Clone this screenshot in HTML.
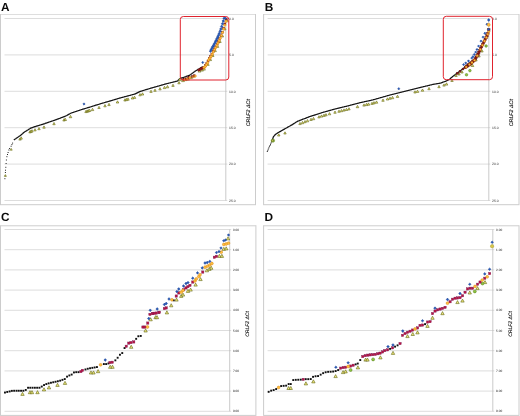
<!DOCTYPE html>
<html><head><meta charset="utf-8"><title>CRLF2 ΔCt figure</title>
<style>html,body{margin:0;padding:0;background:#fff;}svg{display:block;}</style></head>
<body><svg width="520" height="416" viewBox="0 0 520 416" text-rendering="geometricPrecision">
<rect width="520" height="416" fill="#fff"/>
<g transform="translate(0,0)">
<text x="0.9" y="10.9" font-family="Liberation Sans, sans-serif" font-weight="bold" font-size="11.8" fill="#0a0a0a">A</text>
<rect x="0.5" y="14.5" width="255.0" height="190.2" fill="#fff" stroke="#cccccc" stroke-width="1"/>
<line x1="1.0" y1="14.5" x2="255.0" y2="14.5" stroke="#dedede" stroke-width="1"/>
<line x1="4.5" y1="18.5" x2="227.3" y2="18.5" stroke="#d4d4d4" stroke-width="0.8"/>
<text transform="translate(229.1,19.72) scale(0.1)" font-family="Liberation Sans, sans-serif" font-size="34" fill="#333" stroke="#333" stroke-width="0.25">0.0</text>
<line x1="4.5" y1="54.9" x2="227.3" y2="54.9" stroke="#d4d4d4" stroke-width="0.8"/>
<text transform="translate(229.1,56.12) scale(0.1)" font-family="Liberation Sans, sans-serif" font-size="34" fill="#333" stroke="#333" stroke-width="0.25">5.0</text>
<line x1="4.5" y1="91.3" x2="227.3" y2="91.3" stroke="#d4d4d4" stroke-width="0.8"/>
<text transform="translate(229.1,92.52) scale(0.1)" font-family="Liberation Sans, sans-serif" font-size="34" fill="#333" stroke="#333" stroke-width="0.25">10.0</text>
<line x1="4.5" y1="127.69999999999999" x2="227.3" y2="127.69999999999999" stroke="#d4d4d4" stroke-width="0.8"/>
<text transform="translate(229.1,128.92) scale(0.1)" font-family="Liberation Sans, sans-serif" font-size="34" fill="#333" stroke="#333" stroke-width="0.25">15.0</text>
<line x1="4.5" y1="164.1" x2="227.3" y2="164.1" stroke="#d4d4d4" stroke-width="0.8"/>
<text transform="translate(229.1,165.32) scale(0.1)" font-family="Liberation Sans, sans-serif" font-size="34" fill="#333" stroke="#333" stroke-width="0.25">20.0</text>
<line x1="4.5" y1="200.5" x2="227.3" y2="200.5" stroke="#d4d4d4" stroke-width="0.8"/>
<text transform="translate(229.1,201.72) scale(0.1)" font-family="Liberation Sans, sans-serif" font-size="34" fill="#333" stroke="#333" stroke-width="0.25">25.0</text>
<line x1="225.8" y1="18.5" x2="225.8" y2="200.5" stroke="#bdbdbd" stroke-width="0.8"/>
<text transform="translate(249.6,112.7) rotate(-90) scale(0.1)" text-anchor="middle" font-family="Liberation Sans, sans-serif" font-style="italic" font-size="53" fill="#000" stroke="#000" stroke-width="1">CRLF2 ΔCt</text>
</g>
<polyline fill="none" stroke="#151515" stroke-width="1.25" points="13.8,140.0 14.2,139.7 14.8,139.3 15.2,139.0 15.8,138.7 16.2,138.3 16.8,138.0 17.2,137.6 17.8,137.3 18.2,137.0 18.8,136.6 19.2,136.3 19.8,136.0 20.2,135.6 20.8,135.2 21.2,134.7 21.8,134.3 22.2,133.9 22.8,133.5 23.2,133.0 23.8,132.6 24.2,132.2 24.8,131.8 25.2,131.5 25.8,131.2 26.2,130.9 26.8,130.6 27.2,130.3 27.8,130.0 28.2,129.7 28.8,129.4 29.2,129.1 29.8,128.7 30.2,128.4 30.8,128.1 31.2,127.9 31.8,127.8 32.2,127.6 32.8,127.4 33.2,127.2 33.8,127.1 34.2,126.9 34.8,126.7 35.2,126.6 35.8,126.4 36.2,126.2 36.8,126.1 37.2,125.9 37.8,125.8 38.2,125.6 38.8,125.5 39.2,125.3 39.8,125.2 40.2,125.0 40.8,124.9 41.2,124.7 41.8,124.6 42.2,124.4 42.8,124.3 43.2,124.1 43.8,123.9 44.2,123.8 44.8,123.6 45.2,123.4 45.8,123.2 46.2,123.1 46.8,122.9 47.2,122.7 47.8,122.6 48.2,122.4 48.8,122.2 49.2,122.0 49.8,121.9 50.2,121.7 50.8,121.5 51.2,121.3 51.8,121.2 52.2,121.0 52.8,120.8 53.2,120.6 53.8,120.5 54.2,120.3 54.8,120.1 55.2,119.9 55.8,119.8 56.2,119.6 56.8,119.4 57.2,119.2 57.8,119.1 58.2,118.9 58.8,118.7 59.2,118.5 59.8,118.3 60.2,118.1 60.8,117.9 61.2,117.7 61.8,117.5 62.2,117.3 62.8,117.1 63.2,116.9 63.8,116.8 64.2,116.6 64.8,116.4 65.2,116.2 65.8,116.0 66.2,115.8 66.8,115.5 67.2,115.2 67.8,114.9 68.2,114.6 68.8,114.4 69.2,114.1 69.8,113.8 70.2,113.5 70.8,113.2 71.2,113.0 71.8,112.9 72.2,112.7 72.8,112.5 73.2,112.4 73.8,112.2 74.2,112.0 74.8,111.9 75.2,111.7 75.8,111.5 76.2,111.4 76.8,111.2 77.2,111.0 77.8,110.9 78.2,110.7 78.8,110.5 79.2,110.4 79.8,110.2 80.2,110.0 80.8,109.9 81.2,109.7 81.8,109.5 82.2,109.4 82.8,109.2 83.2,109.1 83.8,108.9 84.2,108.8 84.8,108.6 85.2,108.5 85.8,108.3 86.2,108.2 86.8,108.0 87.2,107.9 87.8,107.7 88.2,107.6 88.8,107.4 89.2,107.3 89.8,107.1 90.2,107.0 90.8,106.8 91.2,106.7 91.8,106.5 92.2,106.3 92.8,106.2 93.2,106.0 93.8,105.9 94.2,105.7 94.8,105.6 95.2,105.4 95.8,105.2 96.2,105.1 96.8,104.9 97.2,104.8 97.8,104.6 98.2,104.5 98.8,104.3 99.2,104.1 99.8,104.0 100.2,103.8 100.8,103.7 101.2,103.5 101.8,103.4 102.2,103.2 102.8,103.1 103.2,103.0 103.8,102.8 104.2,102.7 104.8,102.5 105.2,102.4 105.8,102.2 106.2,102.1 106.8,101.9 107.2,101.8 107.8,101.7 108.2,101.5 108.8,101.4 109.2,101.2 109.8,101.1 110.2,100.9 110.8,100.8 111.2,100.6 111.8,100.5 112.2,100.3 112.8,100.2 113.2,100.0 113.8,99.9 114.2,99.7 114.8,99.6 115.2,99.4 115.8,99.3 116.2,99.1 116.8,99.0 117.2,98.8 117.8,98.7 118.2,98.5 118.8,98.4 119.2,98.2 119.8,98.1 120.2,97.9 120.8,97.8 121.2,97.7 121.8,97.5 122.2,97.4 122.8,97.3 123.2,97.1 123.8,97.0 124.2,96.9 124.8,96.7 125.2,96.6 125.8,96.5 126.2,96.3 126.8,96.2 127.2,96.1 127.8,95.9 128.2,95.8 128.8,95.7 129.2,95.5 129.8,95.4 130.2,95.3 130.8,95.1 131.2,95.0 131.8,94.9 132.2,94.7 132.8,94.6 133.2,94.5 133.8,94.3 134.2,94.2 134.8,94.1 135.2,93.9 135.8,93.6 136.2,93.4 136.8,93.1 137.2,92.9 137.8,92.6 138.2,92.4 138.8,92.1 139.2,91.9 139.8,91.6 140.2,91.4 140.8,91.3 141.2,91.1 141.8,91.0 142.2,90.8 142.8,90.7 143.2,90.5 143.8,90.4 144.2,90.2 144.8,90.0 145.2,89.9 145.8,89.7 146.2,89.6 146.8,89.4 147.2,89.3 147.8,89.1 148.2,89.0 148.8,88.8 149.2,88.7 149.8,88.5 150.2,88.4 150.8,88.2 151.2,88.1 151.8,87.9 152.2,87.8 152.8,87.6 153.2,87.5 153.8,87.4 154.2,87.2 154.8,87.1 155.2,86.9 155.8,86.8 156.2,86.7 156.8,86.5 157.2,86.4 157.8,86.2 158.2,86.1 158.8,86.0 159.2,85.8 159.8,85.7 160.2,85.5 160.8,85.4 161.2,85.2 161.8,85.1 162.2,84.9 162.8,84.8 163.2,84.7 163.8,84.5 164.2,84.4 164.8,84.2 165.2,84.1 165.8,83.9 166.2,83.8 166.8,83.7 167.2,83.5 167.8,83.4 168.2,83.3 168.8,83.2 169.2,83.0 169.8,82.9 170.2,82.8 170.8,82.7 171.2,82.5 171.8,82.4 172.2,82.3 172.8,82.2 173.2,82.1 173.8,81.9 174.2,81.8 174.8,81.7 175.2,81.6 175.8,81.4 176.2,81.3 176.8,81.2 177.2,81.1 177.8,80.8 178.2,80.2 178.8,79.8 179.2,79.2 179.8,78.8 180.2,78.4 180.8,78.3 181.2,78.1 181.8,77.9 182.2,77.8 182.8,77.6 183.2,77.5 183.8,77.3 184.2,77.1 184.8,77.0 185.2,76.8 185.8,76.6 186.2,76.4 186.8,76.2 187.2,76.0 187.8,75.9 188.2,75.7 188.8,75.5 189.2,75.3 189.8,75.1 190.2,74.8 190.8,74.4 191.2,74.1 191.8,73.7 192.2,73.3 192.8,72.9 193.2,72.6 193.8,72.2 194.2,71.8 194.8,71.4 195.2,71.1 195.8,70.8 196.2,70.5 196.8,70.2 197.2,69.9 197.8,69.6 198.2,69.3 198.8,69.0 199.2,68.7 199.8,68.4 200.2,68.2 200.8,67.9 201.2,67.6 201.8,67.3 202.2,67.1 202.8,66.8"/>
<rect x="12.10" y="142.60" width="1.0" height="1.0" fill="#222"/>
<rect x="11.40" y="144.10" width="1.0" height="1.0" fill="#222"/>
<rect x="10.60" y="145.75" width="1.0" height="1.0" fill="#222"/>
<rect x="9.10" y="148.00" width="1.0" height="1.0" fill="#222"/>
<rect x="8.40" y="149.50" width="1.0" height="1.0" fill="#222"/>
<rect x="7.60" y="152.00" width="1.0" height="1.0" fill="#222"/>
<rect x="7.00" y="154.00" width="1.0" height="1.0" fill="#222"/>
<rect x="6.40" y="156.20" width="1.0" height="1.0" fill="#222"/>
<rect x="5.90" y="159.50" width="1.0" height="1.0" fill="#222"/>
<rect x="5.60" y="163.00" width="1.0" height="1.0" fill="#222"/>
<rect x="5.30" y="166.80" width="1.0" height="1.0" fill="#222"/>
<rect x="5.00" y="169.70" width="1.0" height="1.0" fill="#222"/>
<rect x="4.90" y="172.00" width="1.0" height="1.0" fill="#222"/>
<rect x="4.80" y="175.30" width="1.0" height="1.0" fill="#222"/>
<rect x="4.40" y="178.20" width="1.0" height="1.0" fill="#222"/>
<path d="M11.2 148.4L12.2 150.2L10.2 150.2Z" fill="#efe67a" stroke="#5f6414" stroke-width="0.6"/>
<path d="M5.4 174.6L6.4 176.4L4.4 176.4Z" fill="#efe67a" stroke="#5f6414" stroke-width="0.6"/>
<path d="M20.0 137.9L21.2 140.1L18.8 140.1Z" fill="#efe67a" stroke="#5f6414" stroke-width="0.6"/>
<path d="M21.2 136.8L22.4 139.1L19.9 139.1Z" fill="#efe67a" stroke="#5f6414" stroke-width="0.6"/>
<path d="M30.0 130.6L31.2 132.9L28.8 132.9Z" fill="#efe67a" stroke="#5f6414" stroke-width="0.6"/>
<path d="M31.0 130.1L32.2 132.3L29.8 132.3Z" fill="#efe67a" stroke="#5f6414" stroke-width="0.6"/>
<path d="M32.0 129.7L33.2 132.0L30.8 132.0Z" fill="#efe67a" stroke="#5f6414" stroke-width="0.6"/>
<path d="M35.0 128.7L36.2 130.9L33.8 130.9Z" fill="#efe67a" stroke="#5f6414" stroke-width="0.6"/>
<path d="M39.0 127.5L40.2 129.7L37.8 129.7Z" fill="#efe67a" stroke="#5f6414" stroke-width="0.6"/>
<path d="M44.0 125.9L45.2 128.2L42.8 128.2Z" fill="#efe67a" stroke="#5f6414" stroke-width="0.6"/>
<path d="M54.0 122.4L55.2 124.7L52.8 124.7Z" fill="#efe67a" stroke="#5f6414" stroke-width="0.6"/>
<path d="M64.0 118.7L65.2 121.0L62.8 121.0Z" fill="#efe67a" stroke="#5f6414" stroke-width="0.6"/>
<path d="M65.2 118.2L66.5 120.5L64.0 120.5Z" fill="#efe67a" stroke="#5f6414" stroke-width="0.6"/>
<path d="M70.5 115.4L71.8 117.7L69.2 117.7Z" fill="#efe67a" stroke="#5f6414" stroke-width="0.6"/>
<path d="M86.0 110.3L87.2 112.6L84.8 112.6Z" fill="#efe67a" stroke="#5f6414" stroke-width="0.6"/>
<path d="M87.2 109.9L88.5 112.2L86.0 112.2Z" fill="#efe67a" stroke="#5f6414" stroke-width="0.6"/>
<path d="M88.4 109.6L89.7 111.8L87.2 111.8Z" fill="#efe67a" stroke="#5f6414" stroke-width="0.6"/>
<path d="M89.6 109.2L90.8 111.5L88.3 111.5Z" fill="#efe67a" stroke="#5f6414" stroke-width="0.6"/>
<path d="M92.5 108.3L93.8 110.6L91.2 110.6Z" fill="#efe67a" stroke="#5f6414" stroke-width="0.6"/>
<path d="M99.0 106.3L100.2 108.5L97.8 108.5Z" fill="#efe67a" stroke="#5f6414" stroke-width="0.6"/>
<path d="M105.0 104.5L106.2 106.8L103.8 106.8Z" fill="#efe67a" stroke="#5f6414" stroke-width="0.6"/>
<path d="M109.0 103.3L110.2 105.6L107.8 105.6Z" fill="#efe67a" stroke="#5f6414" stroke-width="0.6"/>
<path d="M117.5 100.8L118.8 103.0L116.2 103.0Z" fill="#efe67a" stroke="#5f6414" stroke-width="0.6"/>
<path d="M125.0 98.7L126.2 101.0L123.8 101.0Z" fill="#efe67a" stroke="#5f6414" stroke-width="0.6"/>
<path d="M126.5 98.3L127.8 100.6L125.2 100.6Z" fill="#efe67a" stroke="#5f6414" stroke-width="0.6"/>
<path d="M128.0 97.9L129.2 100.2L126.8 100.2Z" fill="#efe67a" stroke="#5f6414" stroke-width="0.6"/>
<path d="M132.5 96.7L133.8 99.0L131.2 99.0Z" fill="#efe67a" stroke="#5f6414" stroke-width="0.6"/>
<path d="M134.5 96.2L135.8 98.4L133.2 98.4Z" fill="#efe67a" stroke="#5f6414" stroke-width="0.6"/>
<path d="M140.0 93.5L141.2 95.8L138.8 95.8Z" fill="#efe67a" stroke="#5f6414" stroke-width="0.6"/>
<path d="M142.5 92.8L143.8 95.0L141.2 95.0Z" fill="#efe67a" stroke="#5f6414" stroke-width="0.6"/>
<path d="M151.0 90.2L152.2 92.4L149.8 92.4Z" fill="#efe67a" stroke="#5f6414" stroke-width="0.6"/>
<path d="M155.0 89.1L156.2 91.3L153.8 91.3Z" fill="#efe67a" stroke="#5f6414" stroke-width="0.6"/>
<path d="M160.0 87.6L161.2 89.9L158.8 89.9Z" fill="#efe67a" stroke="#5f6414" stroke-width="0.6"/>
<path d="M164.5 86.3L165.8 88.6L163.2 88.6Z" fill="#efe67a" stroke="#5f6414" stroke-width="0.6"/>
<path d="M167.5 85.5L168.8 87.8L166.2 87.8Z" fill="#efe67a" stroke="#5f6414" stroke-width="0.6"/>
<path d="M173.0 84.2L174.2 86.4L171.8 86.4Z" fill="#efe67a" stroke="#5f6414" stroke-width="0.6"/>
<path d="M179.0 81.5L180.2 83.8L177.8 83.8Z" fill="#efe67a" stroke="#5f6414" stroke-width="0.6"/>
<path d="M180.0 78.1L181.4 80.6L178.6 80.6Z" fill="#efe67a" stroke="#5f6414" stroke-width="0.6"/>
<path d="M183.0 79.1L184.4 81.6L181.6 81.6Z" fill="#efe67a" stroke="#5f6414" stroke-width="0.6"/>
<path d="M185.5 78.1L186.9 80.6L184.1 80.6Z" fill="#efe67a" stroke="#5f6414" stroke-width="0.6"/>
<path d="M188.0 77.6L189.4 80.1L186.6 80.1Z" fill="#efe67a" stroke="#5f6414" stroke-width="0.6"/>
<path d="M191.0 76.1L192.4 78.6L189.6 78.6Z" fill="#efe67a" stroke="#5f6414" stroke-width="0.6"/>
<path d="M194.0 74.6L195.4 77.1L192.6 77.1Z" fill="#efe67a" stroke="#5f6414" stroke-width="0.6"/>
<path d="M199.5 69.6L200.9 72.1L198.1 72.1Z" fill="#efe67a" stroke="#5f6414" stroke-width="0.6"/>
<path d="M202.0 68.6L203.4 71.1L200.6 71.1Z" fill="#efe67a" stroke="#5f6414" stroke-width="0.6"/>
<path d="M204.0 67.6L205.4 70.1L202.6 70.1Z" fill="#efe67a" stroke="#5f6414" stroke-width="0.6"/>
<path d="M84.0 102.8L85.2 104.0L84.0 105.2L82.8 104.0Z" fill="#2459b8" stroke="#1a3a8a" stroke-width="0.4"/>
<path d="M208.0 63.3L209.2 65.4L206.8 65.4Z" fill="#efe67a" stroke="#5f6414" stroke-width="0.6"/>
<path d="M210.4 58.4L211.6 60.6L209.2 60.6Z" fill="#efe67a" stroke="#5f6414" stroke-width="0.6"/>
<path d="M212.8 54.3L214.0 56.5L211.6 56.5Z" fill="#efe67a" stroke="#5f6414" stroke-width="0.6"/>
<path d="M215.2 49.5L216.4 51.6L214.0 51.6Z" fill="#efe67a" stroke="#5f6414" stroke-width="0.6"/>
<path d="M217.6 45.2L218.8 47.4L216.4 47.4Z" fill="#efe67a" stroke="#5f6414" stroke-width="0.6"/>
<path d="M220.0 40.3L221.2 42.5L218.8 42.5Z" fill="#efe67a" stroke="#5f6414" stroke-width="0.6"/>
<path d="M222.4 34.8L223.6 37.0L221.2 37.0Z" fill="#efe67a" stroke="#5f6414" stroke-width="0.6"/>
<path d="M224.8 27.7L226.0 29.9L223.6 29.9Z" fill="#efe67a" stroke="#5f6414" stroke-width="0.6"/>
<path d="M227.2 19.6L228.4 21.8L226.0 21.8Z" fill="#efe67a" stroke="#5f6414" stroke-width="0.6"/>
<rect x="182.8" y="78.5" width="1.8" height="1.8" fill="#a31a1a" stroke="#6a1010" stroke-width="0.4"/>
<circle cx="184.8" cy="79.7" r="1.0" fill="#ffc23e" stroke="#d98218" stroke-width="0.5"/>
<rect x="185.3" y="77.9" width="1.8" height="1.8" fill="#a31a1a" stroke="#6a1010" stroke-width="0.4"/>
<circle cx="187.2" cy="79.1" r="1.0" fill="#ffc23e" stroke="#d98218" stroke-width="0.5"/>
<rect x="187.8" y="76.5" width="1.8" height="1.8" fill="#a31a1a" stroke="#6a1010" stroke-width="0.4"/>
<circle cx="189.8" cy="77.7" r="1.0" fill="#ffc23e" stroke="#d98218" stroke-width="0.5"/>
<rect x="191.6" y="75.5" width="1.8" height="1.8" fill="#a31a1a" stroke="#6a1010" stroke-width="0.4"/>
<circle cx="193.5" cy="76.7" r="1.0" fill="#ffc23e" stroke="#d98218" stroke-width="0.5"/>
<rect x="193.5" y="74.8" width="1.8" height="1.8" fill="#a31a1a" stroke="#6a1010" stroke-width="0.4"/>
<circle cx="195.4" cy="76.0" r="1.0" fill="#ffc23e" stroke="#d98218" stroke-width="0.5"/>
<rect x="197.9" y="69.0" width="2.0" height="2.0" fill="#a31a1a" stroke="#6a1010" stroke-width="0.4"/>
<rect x="199.2" y="68.3" width="2.0" height="2.0" fill="#a31a1a" stroke="#6a1010" stroke-width="0.4"/>
<rect x="200.5" y="67.6" width="2.0" height="2.0" fill="#a31a1a" stroke="#6a1010" stroke-width="0.4"/>
<rect x="201.8" y="66.9" width="2.0" height="2.0" fill="#a31a1a" stroke="#6a1010" stroke-width="0.4"/>
<rect x="203.1" y="66.2" width="2.0" height="2.0" fill="#a31a1a" stroke="#6a1010" stroke-width="0.4"/>
<rect x="204.4" y="64.7" width="2.0" height="2.0" fill="#a31a1a" stroke="#6a1010" stroke-width="0.4"/>
<rect x="205.7" y="62.8" width="2.0" height="2.0" fill="#a31a1a" stroke="#6a1010" stroke-width="0.4"/>
<rect x="207.0" y="60.0" width="2.0" height="2.0" fill="#a31a1a" stroke="#6a1010" stroke-width="0.4"/>
<rect x="208.3" y="57.6" width="2.0" height="2.0" fill="#a31a1a" stroke="#6a1010" stroke-width="0.4"/>
<rect x="209.6" y="55.7" width="2.0" height="2.0" fill="#a31a1a" stroke="#6a1010" stroke-width="0.4"/>
<rect x="210.9" y="53.1" width="2.0" height="2.0" fill="#a31a1a" stroke="#6a1010" stroke-width="0.4"/>
<rect x="212.2" y="50.4" width="2.0" height="2.0" fill="#a31a1a" stroke="#6a1010" stroke-width="0.4"/>
<rect x="213.5" y="48.0" width="2.0" height="2.0" fill="#a31a1a" stroke="#6a1010" stroke-width="0.4"/>
<rect x="214.8" y="45.8" width="2.0" height="2.0" fill="#a31a1a" stroke="#6a1010" stroke-width="0.4"/>
<rect x="216.1" y="43.2" width="2.0" height="2.0" fill="#a31a1a" stroke="#6a1010" stroke-width="0.4"/>
<rect x="217.4" y="40.6" width="2.0" height="2.0" fill="#a31a1a" stroke="#6a1010" stroke-width="0.4"/>
<rect x="218.7" y="37.7" width="2.0" height="2.0" fill="#a31a1a" stroke="#6a1010" stroke-width="0.4"/>
<rect x="220.0" y="34.8" width="2.0" height="2.0" fill="#a31a1a" stroke="#6a1010" stroke-width="0.4"/>
<rect x="221.3" y="31.2" width="2.0" height="2.0" fill="#a31a1a" stroke="#6a1010" stroke-width="0.4"/>
<rect x="222.6" y="27.3" width="2.0" height="2.0" fill="#a31a1a" stroke="#6a1010" stroke-width="0.4"/>
<rect x="223.9" y="22.9" width="2.0" height="2.0" fill="#a31a1a" stroke="#6a1010" stroke-width="0.4"/>
<rect x="225.2" y="18.4" width="2.0" height="2.0" fill="#a31a1a" stroke="#6a1010" stroke-width="0.4"/>
<circle cx="204.1" cy="67.5" r="1.2" fill="#ffc23e" stroke="#d98218" stroke-width="0.5"/>
<circle cx="205.2" cy="66.4" r="1.2" fill="#ffc23e" stroke="#d98218" stroke-width="0.5"/>
<circle cx="206.4" cy="64.7" r="1.2" fill="#ffc23e" stroke="#d98218" stroke-width="0.5"/>
<circle cx="207.6" cy="62.8" r="1.2" fill="#ffc23e" stroke="#d98218" stroke-width="0.5"/>
<circle cx="208.7" cy="60.0" r="1.2" fill="#ffc23e" stroke="#d98218" stroke-width="0.5"/>
<circle cx="209.9" cy="58.3" r="1.2" fill="#ffc23e" stroke="#d98218" stroke-width="0.5"/>
<circle cx="211.0" cy="56.6" r="1.2" fill="#ffc23e" stroke="#d98218" stroke-width="0.5"/>
<circle cx="212.2" cy="54.2" r="1.2" fill="#ffc23e" stroke="#d98218" stroke-width="0.5"/>
<circle cx="213.3" cy="51.9" r="1.2" fill="#ffc23e" stroke="#d98218" stroke-width="0.5"/>
<circle cx="214.5" cy="49.6" r="1.2" fill="#ffc23e" stroke="#d98218" stroke-width="0.5"/>
<circle cx="215.6" cy="47.6" r="1.2" fill="#ffc23e" stroke="#d98218" stroke-width="0.5"/>
<circle cx="216.8" cy="45.5" r="1.2" fill="#ffc23e" stroke="#d98218" stroke-width="0.5"/>
<circle cx="217.9" cy="43.2" r="1.2" fill="#ffc23e" stroke="#d98218" stroke-width="0.5"/>
<circle cx="219.1" cy="40.8" r="1.2" fill="#ffc23e" stroke="#d98218" stroke-width="0.5"/>
<circle cx="220.2" cy="38.3" r="1.2" fill="#ffc23e" stroke="#d98218" stroke-width="0.5"/>
<circle cx="221.4" cy="35.6" r="1.2" fill="#ffc23e" stroke="#d98218" stroke-width="0.5"/>
<circle cx="222.5" cy="32.4" r="1.2" fill="#ffc23e" stroke="#d98218" stroke-width="0.5"/>
<circle cx="223.7" cy="29.0" r="1.2" fill="#ffc23e" stroke="#d98218" stroke-width="0.5"/>
<circle cx="224.8" cy="25.1" r="1.2" fill="#ffc23e" stroke="#d98218" stroke-width="0.5"/>
<circle cx="226.0" cy="21.3" r="1.2" fill="#ffc23e" stroke="#d98218" stroke-width="0.5"/>
<path d="M210.5 49.8L211.9 51.2L210.5 52.6L209.1 51.2Z" fill="#2459b8" stroke="#1a3a8a" stroke-width="0.4"/>
<path d="M211.3 48.1L212.7 49.5L211.3 50.9L209.9 49.5Z" fill="#2459b8" stroke="#1a3a8a" stroke-width="0.4"/>
<path d="M212.1 46.5L213.5 47.9L212.1 49.3L210.7 47.9Z" fill="#2459b8" stroke="#1a3a8a" stroke-width="0.4"/>
<path d="M212.9 45.2L214.3 46.6L212.9 48.0L211.5 46.6Z" fill="#2459b8" stroke="#1a3a8a" stroke-width="0.4"/>
<path d="M213.7 43.8L215.1 45.2L213.7 46.6L212.3 45.2Z" fill="#2459b8" stroke="#1a3a8a" stroke-width="0.4"/>
<path d="M214.5 42.3L215.9 43.7L214.5 45.1L213.1 43.7Z" fill="#2459b8" stroke="#1a3a8a" stroke-width="0.4"/>
<path d="M215.3 40.7L216.7 42.1L215.3 43.5L213.9 42.1Z" fill="#2459b8" stroke="#1a3a8a" stroke-width="0.4"/>
<path d="M216.1 39.1L217.5 40.5L216.1 41.9L214.7 40.5Z" fill="#2459b8" stroke="#1a3a8a" stroke-width="0.4"/>
<path d="M216.9 37.4L218.3 38.8L216.9 40.2L215.5 38.8Z" fill="#2459b8" stroke="#1a3a8a" stroke-width="0.4"/>
<path d="M217.7 35.7L219.1 37.1L217.7 38.5L216.3 37.1Z" fill="#2459b8" stroke="#1a3a8a" stroke-width="0.4"/>
<path d="M218.5 33.9L219.9 35.3L218.5 36.7L217.1 35.3Z" fill="#2459b8" stroke="#1a3a8a" stroke-width="0.4"/>
<path d="M219.3 32.0L220.7 33.4L219.3 34.8L217.9 33.4Z" fill="#2459b8" stroke="#1a3a8a" stroke-width="0.4"/>
<path d="M220.1 29.8L221.5 31.2L220.1 32.6L218.7 31.2Z" fill="#2459b8" stroke="#1a3a8a" stroke-width="0.4"/>
<path d="M220.9 27.6L222.3 29.0L220.9 30.4L219.5 29.0Z" fill="#2459b8" stroke="#1a3a8a" stroke-width="0.4"/>
<path d="M221.7 25.0L223.1 26.4L221.7 27.8L220.3 26.4Z" fill="#2459b8" stroke="#1a3a8a" stroke-width="0.4"/>
<path d="M222.5 22.3L223.9 23.7L222.5 25.1L221.1 23.7Z" fill="#2459b8" stroke="#1a3a8a" stroke-width="0.4"/>
<path d="M223.3 19.6L224.7 21.0L223.3 22.4L221.9 21.0Z" fill="#2459b8" stroke="#1a3a8a" stroke-width="0.4"/>
<path d="M224.1 16.9L225.5 18.3L224.1 19.7L222.7 18.3Z" fill="#2459b8" stroke="#1a3a8a" stroke-width="0.4"/>
<path d="M202.8 61.3L203.9 62.5L202.8 63.7L201.6 62.5Z" fill="#2459b8" stroke="#1a3a8a" stroke-width="0.4"/>
<path d="M225.4 17.0L226.7 18.3L225.4 19.6L224.1 18.3Z" fill="#2459b8" stroke="#1a3a8a" stroke-width="0.4"/>
<rect x="180.3" y="16.5" width="48.5" height="63.5" rx="3" ry="3" fill="none" stroke="#e0232e" stroke-width="1"/>
<g transform="translate(263.1,0)">
<text x="1.6" y="10.9" font-family="Liberation Sans, sans-serif" font-weight="bold" font-size="11.8" fill="#0a0a0a">B</text>
<rect x="0.5" y="14.5" width="255.4" height="190.2" fill="#fff" stroke="#cccccc" stroke-width="1"/>
<line x1="1.0" y1="14.5" x2="255.4" y2="14.5" stroke="#dedede" stroke-width="1"/>
<line x1="4.5" y1="18.5" x2="227.2" y2="18.5" stroke="#d4d4d4" stroke-width="0.8"/>
<text transform="translate(229.0,19.72) scale(0.1)" font-family="Liberation Sans, sans-serif" font-size="34" fill="#333" stroke="#333" stroke-width="0.25">0.0</text>
<line x1="4.5" y1="54.9" x2="227.2" y2="54.9" stroke="#d4d4d4" stroke-width="0.8"/>
<text transform="translate(229.0,56.12) scale(0.1)" font-family="Liberation Sans, sans-serif" font-size="34" fill="#333" stroke="#333" stroke-width="0.25">5.0</text>
<line x1="4.5" y1="91.3" x2="227.2" y2="91.3" stroke="#d4d4d4" stroke-width="0.8"/>
<text transform="translate(229.0,92.52) scale(0.1)" font-family="Liberation Sans, sans-serif" font-size="34" fill="#333" stroke="#333" stroke-width="0.25">10.0</text>
<line x1="4.5" y1="127.69999999999999" x2="227.2" y2="127.69999999999999" stroke="#d4d4d4" stroke-width="0.8"/>
<text transform="translate(229.0,128.92) scale(0.1)" font-family="Liberation Sans, sans-serif" font-size="34" fill="#333" stroke="#333" stroke-width="0.25">15.0</text>
<line x1="4.5" y1="164.1" x2="227.2" y2="164.1" stroke="#d4d4d4" stroke-width="0.8"/>
<text transform="translate(229.0,165.32) scale(0.1)" font-family="Liberation Sans, sans-serif" font-size="34" fill="#333" stroke="#333" stroke-width="0.25">20.0</text>
<line x1="4.5" y1="200.5" x2="227.2" y2="200.5" stroke="#d4d4d4" stroke-width="0.8"/>
<text transform="translate(229.0,201.72) scale(0.1)" font-family="Liberation Sans, sans-serif" font-size="34" fill="#333" stroke="#333" stroke-width="0.25">25.0</text>
<line x1="225.7" y1="18.5" x2="225.7" y2="200.5" stroke="#bdbdbd" stroke-width="0.8"/>
<text transform="translate(249.5,112.7) rotate(-90) scale(0.1)" text-anchor="middle" font-family="Liberation Sans, sans-serif" font-style="italic" font-size="53" fill="#000" stroke="#000" stroke-width="1">CRLF2 ΔCt</text>
</g>
<polyline fill="none" stroke="#151515" stroke-width="1.25" points="272.4,139.4 272.9,138.2 273.4,136.9 273.9,136.1 274.4,135.6 274.9,135.0 275.4,134.5 275.9,134.1 276.4,133.8 276.9,133.4 277.4,133.1 277.9,132.8 278.4,132.5 278.9,132.2 279.4,131.9 279.9,131.6 280.4,131.4 280.9,131.1 281.4,130.8 281.9,130.5 282.4,130.2 282.9,129.9 283.4,129.7 283.9,129.4 284.4,129.1 284.9,128.8 285.4,128.5 285.9,128.2 286.4,128.0 286.9,127.7 287.4,127.4 287.9,127.1 288.4,126.8 288.9,126.5 289.4,126.3 289.9,126.0 290.4,125.7 290.9,125.4 291.4,125.1 291.9,124.8 292.4,124.6 292.9,124.2 293.4,123.9 293.9,123.6 294.4,123.3 294.9,123.0 295.4,122.6 295.9,122.3 296.4,122.0 296.9,121.7 297.4,121.4 297.9,121.1 298.4,121.0 298.9,120.8 299.4,120.6 299.9,120.4 300.4,120.2 300.9,120.0 301.4,119.8 301.9,119.6 302.4,119.4 302.9,119.2 303.4,119.0 303.9,118.8 304.4,118.7 304.9,118.5 305.4,118.3 305.9,118.1 306.4,117.9 306.9,117.7 307.4,117.5 307.9,117.3 308.4,117.1 308.9,116.9 309.4,116.7 309.9,116.5 310.4,116.4 310.9,116.2 311.4,116.1 311.9,115.9 312.4,115.7 312.9,115.6 313.4,115.4 313.9,115.3 314.4,115.1 314.9,114.9 315.4,114.8 315.9,114.6 316.4,114.5 316.9,114.3 317.4,114.1 317.9,114.0 318.4,113.8 318.9,113.7 319.4,113.5 319.9,113.3 320.4,113.2 320.9,113.0 321.4,112.9 321.9,112.7 322.4,112.5 322.9,112.4 323.4,112.2 323.9,112.1 324.4,112.0 324.9,111.8 325.4,111.7 325.9,111.5 326.4,111.4 326.9,111.3 327.4,111.1 327.9,111.0 328.4,110.8 328.9,110.7 329.4,110.6 329.9,110.4 330.4,110.3 330.9,110.1 331.4,110.0 331.9,109.9 332.4,109.7 332.9,109.6 333.4,109.4 333.9,109.3 334.4,109.2 334.9,109.0 335.4,108.9 335.9,108.8 336.4,108.7 336.9,108.5 337.4,108.4 337.9,108.3 338.4,108.2 338.9,108.1 339.4,107.9 339.9,107.8 340.4,107.7 340.9,107.6 341.4,107.5 341.9,107.3 342.4,107.2 342.9,107.1 343.4,107.0 343.9,106.9 344.4,106.7 344.9,106.6 345.4,106.5 345.9,106.4 346.4,106.3 346.9,106.1 347.4,106.0 347.9,105.9 348.4,105.8 348.9,105.6 349.4,105.5 349.9,105.4 350.4,105.2 350.9,105.1 351.4,105.0 351.9,104.8 352.4,104.7 352.9,104.6 353.4,104.4 353.9,104.3 354.4,104.2 354.9,104.0 355.4,103.9 355.9,103.8 356.4,103.7 356.9,103.5 357.4,103.4 357.9,103.3 358.4,103.1 358.9,103.0 359.4,102.9 359.9,102.7 360.4,102.6 360.9,102.5 361.4,102.4 361.9,102.3 362.4,102.2 362.9,102.1 363.4,102.0 363.9,101.9 364.4,101.7 364.9,101.6 365.4,101.5 365.9,101.4 366.4,101.3 366.9,101.2 367.4,101.1 367.9,101.0 368.4,100.9 368.9,100.8 369.4,100.7 369.9,100.6 370.4,100.5 370.9,100.3 371.4,100.2 371.9,100.1 372.4,100.0 372.9,99.9 373.4,99.7 373.9,99.6 374.4,99.5 374.9,99.3 375.4,99.2 375.9,99.0 376.4,98.9 376.9,98.7 377.4,98.6 377.9,98.5 378.4,98.3 378.9,98.2 379.4,98.0 379.9,97.9 380.4,97.7 380.9,97.6 381.4,97.5 381.9,97.3 382.4,97.2 382.9,97.0 383.4,96.9 383.9,96.7 384.4,96.6 384.9,96.5 385.4,96.3 385.9,96.2 386.4,96.0 386.9,95.9 387.4,95.7 387.9,95.6 388.4,95.5 388.9,95.3 389.4,95.2 389.9,95.0 390.4,94.9 390.9,94.8 391.4,94.7 391.9,94.5 392.4,94.4 392.9,94.3 393.4,94.2 393.9,94.0 394.4,93.9 394.9,93.8 395.4,93.7 395.9,93.5 396.4,93.4 396.9,93.3 397.4,93.2 397.9,93.0 398.4,92.9 398.9,92.8 399.4,92.7 399.9,92.5 400.4,92.4 400.9,92.3 401.4,92.2 401.9,92.0 402.4,91.9 402.9,91.8 403.4,91.7 403.9,91.5 404.4,91.4 404.9,91.3 405.4,91.2 405.9,91.0 406.4,90.9 406.9,90.8 407.4,90.7 407.9,90.5 408.4,90.4 408.9,90.3 409.4,90.2 409.9,90.0 410.4,89.9 410.9,89.8 411.4,89.7 411.9,89.5 412.4,89.4 412.9,89.3 413.4,89.2 413.9,89.0 414.4,88.9 414.9,88.8 415.4,88.7 415.9,88.5 416.4,88.4 416.9,88.3 417.4,88.2 417.9,88.0 418.4,87.9 418.9,87.8 419.4,87.7 419.9,87.6 420.4,87.4 420.9,87.3 421.4,87.2 421.9,87.1 422.4,87.0 422.9,86.8 423.4,86.7 423.9,86.6 424.4,86.5 424.9,86.4 425.4,86.2 425.9,86.1 426.4,86.0 426.9,85.9 427.4,85.8 427.9,85.6 428.4,85.5 428.9,85.4 429.4,85.3 429.9,85.1 430.4,85.0 430.9,84.9 431.4,84.8 431.9,84.7 432.4,84.5 432.9,84.4 433.4,84.3 433.9,84.2 434.4,84.2 434.9,84.1 435.4,84.0 435.9,83.9 436.4,83.8 436.9,83.7 437.4,83.6 437.9,83.6 438.4,83.5 438.9,83.4 439.4,83.3 439.9,83.2 440.4,83.1 440.9,83.0 441.4,82.8 441.9,82.6 442.4,82.4 442.9,82.2 443.4,82.0 443.9,81.8 444.4,81.7 444.9,81.5 445.4,81.3 445.9,81.1 446.4,80.8 446.9,80.6 447.4,80.3 447.9,80.1 448.4,79.8 448.9,79.6 449.4,79.3 449.9,78.9 450.4,78.4 450.9,78.0 451.4,77.6 451.9,77.2 452.4,76.8 452.9,76.3 453.4,76.0 453.9,75.6 454.4,75.2 454.9,74.8 455.4,74.5 455.9,74.1 456.4,73.7 456.9,73.3 457.4,73.0 457.9,72.6 458.4,72.2 458.9,71.8 459.4,71.5 459.9,71.1 460.4,70.7 460.9,70.3 461.4,70.0 461.9,69.6 462.4,69.2 462.9,68.8 463.4,68.4 463.9,68.0 464.4,67.6 464.9,67.2 465.4,66.8 465.9,66.3 466.4,66.0 466.9,65.6 467.4,65.2 467.9,64.9 468.4,64.5 468.9,64.2 469.4,63.8 469.9,63.4"/>
<rect x="266.80" y="151.00" width="1.0" height="1.0" fill="#222"/>
<rect x="267.30" y="149.80" width="1.0" height="1.0" fill="#222"/>
<rect x="267.80" y="148.60" width="1.0" height="1.0" fill="#222"/>
<rect x="268.30" y="147.40" width="1.0" height="1.0" fill="#222"/>
<rect x="268.90" y="146.20" width="1.0" height="1.0" fill="#222"/>
<rect x="269.50" y="145.00" width="1.0" height="1.0" fill="#222"/>
<rect x="270.00" y="143.80" width="1.0" height="1.0" fill="#222"/>
<rect x="270.50" y="142.60" width="1.0" height="1.0" fill="#222"/>
<rect x="271.00" y="141.40" width="1.0" height="1.0" fill="#222"/>
<rect x="271.50" y="140.20" width="1.0" height="1.0" fill="#222"/>
<circle cx="272.9" cy="140.6" r="1.7" fill="#8cc63f" stroke="#5a7d1e" stroke-width="0.5"/>
<path d="M272.6 139.0L273.8 141.2L271.4 141.2Z" fill="#efe67a" stroke="#5f6414" stroke-width="0.6"/>
<path d="M278.8 133.8L280.0 136.0L277.5 136.0Z" fill="#efe67a" stroke="#5f6414" stroke-width="0.6"/>
<path d="M285.0 131.8L286.2 134.0L283.8 134.0Z" fill="#efe67a" stroke="#5f6414" stroke-width="0.6"/>
<path d="M300.0 122.4L301.2 124.6L298.8 124.6Z" fill="#efe67a" stroke="#5f6414" stroke-width="0.6"/>
<path d="M302.5 121.4L303.8 123.7L301.2 123.7Z" fill="#efe67a" stroke="#5f6414" stroke-width="0.6"/>
<path d="M305.0 120.5L306.2 122.7L303.8 122.7Z" fill="#efe67a" stroke="#5f6414" stroke-width="0.6"/>
<path d="M307.5 119.5L308.8 121.8L306.2 121.8Z" fill="#efe67a" stroke="#5f6414" stroke-width="0.6"/>
<path d="M311.0 118.2L312.2 120.5L309.8 120.5Z" fill="#efe67a" stroke="#5f6414" stroke-width="0.6"/>
<path d="M313.5 117.4L314.8 119.7L312.2 119.7Z" fill="#efe67a" stroke="#5f6414" stroke-width="0.6"/>
<path d="M319.0 115.7L320.2 117.9L317.8 117.9Z" fill="#efe67a" stroke="#5f6414" stroke-width="0.6"/>
<path d="M321.5 114.9L322.8 117.1L320.2 117.1Z" fill="#efe67a" stroke="#5f6414" stroke-width="0.6"/>
<path d="M324.0 114.1L325.2 116.4L322.8 116.4Z" fill="#efe67a" stroke="#5f6414" stroke-width="0.6"/>
<path d="M326.0 113.6L327.2 115.8L324.8 115.8Z" fill="#efe67a" stroke="#5f6414" stroke-width="0.6"/>
<path d="M329.5 112.6L330.8 114.8L328.2 114.8Z" fill="#efe67a" stroke="#5f6414" stroke-width="0.6"/>
<path d="M335.0 111.0L336.2 113.3L333.8 113.3Z" fill="#efe67a" stroke="#5f6414" stroke-width="0.6"/>
<path d="M339.0 110.1L340.2 112.3L337.8 112.3Z" fill="#efe67a" stroke="#5f6414" stroke-width="0.6"/>
<path d="M341.5 109.5L342.8 111.7L340.2 111.7Z" fill="#efe67a" stroke="#5f6414" stroke-width="0.6"/>
<path d="M344.0 108.9L345.2 111.1L342.8 111.1Z" fill="#efe67a" stroke="#5f6414" stroke-width="0.6"/>
<path d="M346.5 108.3L347.8 110.5L345.2 110.5Z" fill="#efe67a" stroke="#5f6414" stroke-width="0.6"/>
<path d="M349.0 107.7L350.2 109.9L347.8 109.9Z" fill="#efe67a" stroke="#5f6414" stroke-width="0.6"/>
<path d="M357.5 105.4L358.8 107.7L356.2 107.7Z" fill="#efe67a" stroke="#5f6414" stroke-width="0.6"/>
<path d="M364.0 103.9L365.2 106.1L362.8 106.1Z" fill="#efe67a" stroke="#5f6414" stroke-width="0.6"/>
<path d="M366.5 103.3L367.8 105.6L365.2 105.6Z" fill="#efe67a" stroke="#5f6414" stroke-width="0.6"/>
<path d="M368.5 102.9L369.8 105.2L367.2 105.2Z" fill="#efe67a" stroke="#5f6414" stroke-width="0.6"/>
<path d="M372.0 102.2L373.2 104.4L370.8 104.4Z" fill="#efe67a" stroke="#5f6414" stroke-width="0.6"/>
<path d="M374.0 101.6L375.2 103.9L372.8 103.9Z" fill="#efe67a" stroke="#5f6414" stroke-width="0.6"/>
<path d="M376.5 100.9L377.8 103.2L375.2 103.2Z" fill="#efe67a" stroke="#5f6414" stroke-width="0.6"/>
<path d="M383.0 99.0L384.2 101.3L381.8 101.3Z" fill="#efe67a" stroke="#5f6414" stroke-width="0.6"/>
<path d="M387.5 97.8L388.8 100.0L386.2 100.0Z" fill="#efe67a" stroke="#5f6414" stroke-width="0.6"/>
<path d="M390.0 97.0L391.2 99.3L388.8 99.3Z" fill="#efe67a" stroke="#5f6414" stroke-width="0.6"/>
<path d="M392.5 96.4L393.8 98.7L391.2 98.7Z" fill="#efe67a" stroke="#5f6414" stroke-width="0.6"/>
<path d="M397.5 95.2L398.8 97.4L396.2 97.4Z" fill="#efe67a" stroke="#5f6414" stroke-width="0.6"/>
<path d="M415.0 90.8L416.2 93.0L413.8 93.0Z" fill="#efe67a" stroke="#5f6414" stroke-width="0.6"/>
<path d="M417.5 90.2L418.8 92.4L416.2 92.4Z" fill="#efe67a" stroke="#5f6414" stroke-width="0.6"/>
<path d="M422.5 89.0L423.8 91.2L421.2 91.2Z" fill="#efe67a" stroke="#5f6414" stroke-width="0.6"/>
<path d="M429.0 87.4L430.2 89.7L427.8 89.7Z" fill="#efe67a" stroke="#5f6414" stroke-width="0.6"/>
<path d="M439.0 85.4L440.2 87.7L437.8 87.7Z" fill="#efe67a" stroke="#5f6414" stroke-width="0.6"/>
<path d="M444.0 83.9L445.2 86.1L442.8 86.1Z" fill="#efe67a" stroke="#5f6414" stroke-width="0.6"/>
<path d="M446.5 82.8L447.8 85.1L445.2 85.1Z" fill="#efe67a" stroke="#5f6414" stroke-width="0.6"/>
<path d="M452.0 79.2L453.2 81.5L450.8 81.5Z" fill="#efe67a" stroke="#5f6414" stroke-width="0.6"/>
<path d="M456.0 74.2L457.2 76.5L454.8 76.5Z" fill="#efe67a" stroke="#5f6414" stroke-width="0.6"/>
<path d="M459.0 72.8L460.2 75.0L457.8 75.0Z" fill="#efe67a" stroke="#5f6414" stroke-width="0.6"/>
<path d="M462.0 70.8L463.2 73.0L460.8 73.0Z" fill="#efe67a" stroke="#5f6414" stroke-width="0.6"/>
<path d="M472.5 64.2L473.8 66.5L471.2 66.5Z" fill="#efe67a" stroke="#5f6414" stroke-width="0.6"/>
<path d="M476.0 58.8L477.2 61.0L474.8 61.0Z" fill="#efe67a" stroke="#5f6414" stroke-width="0.6"/>
<path d="M479.0 54.8L480.2 57.0L477.8 57.0Z" fill="#efe67a" stroke="#5f6414" stroke-width="0.6"/>
<path d="M482.0 49.8L483.2 52.0L480.8 52.0Z" fill="#efe67a" stroke="#5f6414" stroke-width="0.6"/>
<path d="M398.8 87.5L399.9 88.8L398.8 90.0L397.6 88.8Z" fill="#2459b8" stroke="#1a3a8a" stroke-width="0.4"/>
<circle cx="466.5" cy="74.8" r="1.3" fill="#8cc63f" stroke="#5a7d1e" stroke-width="0.5"/>
<circle cx="469.9" cy="70.6" r="1.3" fill="#8cc63f" stroke="#5a7d1e" stroke-width="0.5"/>
<circle cx="486.1" cy="46.0" r="1.3" fill="#8cc63f" stroke="#5a7d1e" stroke-width="0.5"/>
<rect x="456.5" y="72.4" width="1.8" height="1.8" fill="#8f1a14" stroke="#5a0f0c" stroke-width="0.4"/>
<rect x="459.1" y="70.4" width="1.8" height="1.8" fill="#8f1a14" stroke="#5a0f0c" stroke-width="0.4"/>
<rect x="462.1" y="68.1" width="1.8" height="1.8" fill="#8f1a14" stroke="#5a0f0c" stroke-width="0.4"/>
<rect x="464.2" y="66.3" width="2.4" height="2.4" fill="#8f1a14" stroke="#5a0f0c" stroke-width="0.4"/>
<rect x="465.1" y="65.5" width="2.4" height="2.4" fill="#8f1a14" stroke="#5a0f0c" stroke-width="0.4"/>
<rect x="466.0" y="64.9" width="2.4" height="2.4" fill="#8f1a14" stroke="#5a0f0c" stroke-width="0.4"/>
<rect x="466.9" y="64.2" width="2.4" height="2.4" fill="#8f1a14" stroke="#5a0f0c" stroke-width="0.4"/>
<rect x="467.8" y="63.6" width="2.4" height="2.4" fill="#8f1a14" stroke="#5a0f0c" stroke-width="0.4"/>
<rect x="468.7" y="62.9" width="2.4" height="2.4" fill="#8f1a14" stroke="#5a0f0c" stroke-width="0.4"/>
<rect x="469.6" y="62.3" width="2.4" height="2.4" fill="#8f1a14" stroke="#5a0f0c" stroke-width="0.4"/>
<rect x="470.5" y="61.5" width="2.4" height="2.4" fill="#8f1a14" stroke="#5a0f0c" stroke-width="0.4"/>
<rect x="471.4" y="60.6" width="2.4" height="2.4" fill="#8f1a14" stroke="#5a0f0c" stroke-width="0.4"/>
<rect x="472.3" y="59.8" width="2.4" height="2.4" fill="#8f1a14" stroke="#5a0f0c" stroke-width="0.4"/>
<rect x="473.2" y="59.0" width="2.4" height="2.4" fill="#8f1a14" stroke="#5a0f0c" stroke-width="0.4"/>
<rect x="474.1" y="57.7" width="2.4" height="2.4" fill="#8f1a14" stroke="#5a0f0c" stroke-width="0.4"/>
<rect x="475.0" y="56.1" width="2.4" height="2.4" fill="#8f1a14" stroke="#5a0f0c" stroke-width="0.4"/>
<rect x="475.9" y="54.6" width="2.4" height="2.4" fill="#8f1a14" stroke="#5a0f0c" stroke-width="0.4"/>
<rect x="476.8" y="53.0" width="2.4" height="2.4" fill="#8f1a14" stroke="#5a0f0c" stroke-width="0.4"/>
<rect x="477.7" y="51.2" width="2.4" height="2.4" fill="#8f1a14" stroke="#5a0f0c" stroke-width="0.4"/>
<rect x="478.6" y="49.3" width="2.4" height="2.4" fill="#8f1a14" stroke="#5a0f0c" stroke-width="0.4"/>
<rect x="479.5" y="47.3" width="2.4" height="2.4" fill="#8f1a14" stroke="#5a0f0c" stroke-width="0.4"/>
<rect x="480.4" y="45.5" width="2.4" height="2.4" fill="#8f1a14" stroke="#5a0f0c" stroke-width="0.4"/>
<rect x="481.3" y="43.7" width="2.4" height="2.4" fill="#8f1a14" stroke="#5a0f0c" stroke-width="0.4"/>
<rect x="482.2" y="41.8" width="2.4" height="2.4" fill="#8f1a14" stroke="#5a0f0c" stroke-width="0.4"/>
<rect x="483.1" y="40.0" width="2.4" height="2.4" fill="#8f1a14" stroke="#5a0f0c" stroke-width="0.4"/>
<rect x="484.0" y="38.2" width="2.4" height="2.4" fill="#8f1a14" stroke="#5a0f0c" stroke-width="0.4"/>
<rect x="484.9" y="36.4" width="2.4" height="2.4" fill="#8f1a14" stroke="#5a0f0c" stroke-width="0.4"/>
<rect x="485.8" y="34.6" width="2.4" height="2.4" fill="#8f1a14" stroke="#5a0f0c" stroke-width="0.4"/>
<rect x="486.7" y="32.3" width="2.4" height="2.4" fill="#8f1a14" stroke="#5a0f0c" stroke-width="0.4"/>
<rect x="487.6" y="28.7" width="2.4" height="2.4" fill="#8f1a14" stroke="#5a0f0c" stroke-width="0.4"/>
<circle cx="466.2" cy="67.0" r="1.05" fill="#ffc23e" stroke="#d98218" stroke-width="0.5"/>
<circle cx="469.5" cy="64.6" r="1.05" fill="#ffc23e" stroke="#d98218" stroke-width="0.5"/>
<circle cx="472.0" cy="62.6" r="1.05" fill="#ffc23e" stroke="#d98218" stroke-width="0.5"/>
<circle cx="474.5" cy="60.3" r="1.05" fill="#ffc23e" stroke="#d98218" stroke-width="0.5"/>
<circle cx="477.2" cy="55.8" r="1.05" fill="#ffc23e" stroke="#d98218" stroke-width="0.5"/>
<circle cx="480.4" cy="49.5" r="1.05" fill="#ffc23e" stroke="#d98218" stroke-width="0.5"/>
<circle cx="482.5" cy="45.2" r="1.05" fill="#ffc23e" stroke="#d98218" stroke-width="0.5"/>
<circle cx="484.5" cy="41.1" r="1.05" fill="#ffc23e" stroke="#d98218" stroke-width="0.5"/>
<circle cx="486.3" cy="37.5" r="1.05" fill="#ffc23e" stroke="#d98218" stroke-width="0.5"/>
<circle cx="487.8" cy="34.2" r="1.05" fill="#ffc23e" stroke="#d98218" stroke-width="0.5"/>
<circle cx="488.8" cy="31.5" r="1.05" fill="#ffc23e" stroke="#d98218" stroke-width="0.5"/>
<path d="M463.6 63.4L464.8 64.6L463.6 65.8L462.4 64.6Z" fill="#2459b8" stroke="#1a3a8a" stroke-width="0.4"/>
<path d="M465.8 61.8L466.9 63.0L465.8 64.2L464.6 63.0Z" fill="#2459b8" stroke="#1a3a8a" stroke-width="0.4"/>
<path d="M468.5 59.8L469.7 61.0L468.5 62.2L467.3 61.0Z" fill="#2459b8" stroke="#1a3a8a" stroke-width="0.4"/>
<path d="M471.8 56.9L472.9 58.1L471.8 59.3L470.6 58.1Z" fill="#2459b8" stroke="#1a3a8a" stroke-width="0.4"/>
<path d="M473.0 55.5L474.2 56.7L473.0 57.9L471.8 56.7Z" fill="#2459b8" stroke="#1a3a8a" stroke-width="0.4"/>
<path d="M474.2 53.3L475.4 54.5L474.2 55.7L473.1 54.5Z" fill="#2459b8" stroke="#1a3a8a" stroke-width="0.4"/>
<path d="M475.7 50.9L476.9 52.1L475.7 53.3L474.5 52.1Z" fill="#2459b8" stroke="#1a3a8a" stroke-width="0.4"/>
<path d="M477.0 48.3L478.2 49.5L477.0 50.7L475.8 49.5Z" fill="#2459b8" stroke="#1a3a8a" stroke-width="0.4"/>
<path d="M478.6 44.9L479.8 46.1L478.6 47.3L477.4 46.1Z" fill="#2459b8" stroke="#1a3a8a" stroke-width="0.4"/>
<path d="M481.0 39.9L482.2 41.1L481.0 42.3L479.8 41.1Z" fill="#2459b8" stroke="#1a3a8a" stroke-width="0.4"/>
<path d="M483.0 35.9L484.2 37.1L483.0 38.3L481.8 37.1Z" fill="#2459b8" stroke="#1a3a8a" stroke-width="0.4"/>
<path d="M484.9 32.1L486.1 33.3L484.9 34.5L483.7 33.3Z" fill="#2459b8" stroke="#1a3a8a" stroke-width="0.4"/>
<path d="M487.0 23.0L488.2 24.2L487.0 25.4L485.8 24.2Z" fill="#2459b8" stroke="#1a3a8a" stroke-width="0.4"/>
<path d="M488.6 28.1L489.9 29.4L488.6 30.7L487.3 29.4Z" fill="#2459b8" stroke="#1a3a8a" stroke-width="0.4"/>
<path d="M488.7 18.6L490.1 20.0L488.7 21.4L487.3 20.0Z" fill="#2459b8" stroke="#1a3a8a" stroke-width="0.4"/>
<circle cx="488.7" cy="24.8" r="1.5" fill="#ffc23e" stroke="#d98218" stroke-width="0.5"/>
<rect x="443.3" y="16.3" width="49.2" height="63.4" rx="3" ry="3" fill="none" stroke="#e0232e" stroke-width="1"/>
<g transform="translate(0,208)">
<text x="0.9" y="13" font-family="Liberation Sans, sans-serif" font-weight="bold" font-size="11.8" fill="#0a0a0a">C</text>
<rect x="0.5" y="17.7" width="255.4" height="189.70000000000002" fill="#fff" stroke="#cccccc" stroke-width="1"/>
<line x1="1.0" y1="17.7" x2="255.4" y2="17.7" stroke="#dedede" stroke-width="1"/>
<line x1="4.5" y1="21.5" x2="231.2" y2="21.5" stroke="#d4d4d4" stroke-width="0.8"/>
<text transform="translate(233.0,22.62) scale(0.1)" font-family="Liberation Sans, sans-serif" font-size="31" fill="#333" stroke="#333" stroke-width="0.25">0.00</text>
<line x1="4.5" y1="41.7" x2="231.2" y2="41.7" stroke="#d4d4d4" stroke-width="0.8"/>
<text transform="translate(233.0,42.82) scale(0.1)" font-family="Liberation Sans, sans-serif" font-size="31" fill="#333" stroke="#333" stroke-width="0.25">1.00</text>
<line x1="4.5" y1="61.9" x2="231.2" y2="61.9" stroke="#d4d4d4" stroke-width="0.8"/>
<text transform="translate(233.0,63.02) scale(0.1)" font-family="Liberation Sans, sans-serif" font-size="31" fill="#333" stroke="#333" stroke-width="0.25">2.00</text>
<line x1="4.5" y1="82.1" x2="231.2" y2="82.1" stroke="#d4d4d4" stroke-width="0.8"/>
<text transform="translate(233.0,83.22) scale(0.1)" font-family="Liberation Sans, sans-serif" font-size="31" fill="#333" stroke="#333" stroke-width="0.25">3.00</text>
<line x1="4.5" y1="102.3" x2="231.2" y2="102.3" stroke="#d4d4d4" stroke-width="0.8"/>
<text transform="translate(233.0,103.42) scale(0.1)" font-family="Liberation Sans, sans-serif" font-size="31" fill="#333" stroke="#333" stroke-width="0.25">4.00</text>
<line x1="4.5" y1="122.5" x2="231.2" y2="122.5" stroke="#d4d4d4" stroke-width="0.8"/>
<text transform="translate(233.0,123.62) scale(0.1)" font-family="Liberation Sans, sans-serif" font-size="31" fill="#333" stroke="#333" stroke-width="0.25">5.00</text>
<line x1="4.5" y1="142.7" x2="231.2" y2="142.7" stroke="#d4d4d4" stroke-width="0.8"/>
<text transform="translate(233.0,143.82) scale(0.1)" font-family="Liberation Sans, sans-serif" font-size="31" fill="#333" stroke="#333" stroke-width="0.25">6.00</text>
<line x1="4.5" y1="162.9" x2="231.2" y2="162.9" stroke="#d4d4d4" stroke-width="0.8"/>
<text transform="translate(233.0,164.02) scale(0.1)" font-family="Liberation Sans, sans-serif" font-size="31" fill="#333" stroke="#333" stroke-width="0.25">7.00</text>
<line x1="4.5" y1="183.1" x2="231.2" y2="183.1" stroke="#d4d4d4" stroke-width="0.8"/>
<text transform="translate(233.0,184.22) scale(0.1)" font-family="Liberation Sans, sans-serif" font-size="31" fill="#333" stroke="#333" stroke-width="0.25">8.00</text>
<line x1="4.5" y1="203.29999999999998" x2="231.2" y2="203.29999999999998" stroke="#d4d4d4" stroke-width="0.8"/>
<text transform="translate(233.0,204.42) scale(0.1)" font-family="Liberation Sans, sans-serif" font-size="31" fill="#333" stroke="#333" stroke-width="0.25">9.00</text>
<line x1="229.7" y1="21.5" x2="229.7" y2="203.29999999999998" stroke="#bdbdbd" stroke-width="0.8"/>
<text transform="translate(249.2,116) rotate(-90) scale(0.1)" text-anchor="middle" font-family="Liberation Sans, sans-serif" font-style="italic" font-size="50" fill="#000" stroke="#000" stroke-width="1">CRLF2 ΔCt</text>
</g>
<path d="M22.5 392.3L24.2 395.4L20.8 395.4Z" fill="#efe67a" stroke="#5f6414" stroke-width="0.6"/>
<path d="M30.0 390.6L31.7 393.7L28.3 393.7Z" fill="#efe67a" stroke="#5f6414" stroke-width="0.6"/>
<path d="M32.0 390.6L33.7 393.7L30.3 393.7Z" fill="#efe67a" stroke="#5f6414" stroke-width="0.6"/>
<path d="M37.5 390.6L39.2 393.7L35.8 393.7Z" fill="#efe67a" stroke="#5f6414" stroke-width="0.6"/>
<path d="M44.0 387.8L45.7 390.9L42.3 390.9Z" fill="#efe67a" stroke="#5f6414" stroke-width="0.6"/>
<path d="M49.0 385.8L50.7 388.9L47.3 388.9Z" fill="#efe67a" stroke="#5f6414" stroke-width="0.6"/>
<path d="M57.5 383.3L59.2 386.4L55.8 386.4Z" fill="#efe67a" stroke="#5f6414" stroke-width="0.6"/>
<path d="M65.0 381.3L66.7 384.4L63.3 384.4Z" fill="#efe67a" stroke="#5f6414" stroke-width="0.6"/>
<path d="M91.0 370.9L92.7 374.0L89.3 374.0Z" fill="#efe67a" stroke="#5f6414" stroke-width="0.6"/>
<path d="M93.5 370.9L95.2 374.0L91.8 374.0Z" fill="#efe67a" stroke="#5f6414" stroke-width="0.6"/>
<path d="M98.1 369.6L99.8 372.7L96.4 372.7Z" fill="#efe67a" stroke="#5f6414" stroke-width="0.6"/>
<path d="M110.2 365.2L112.0 368.3L108.5 368.3Z" fill="#efe67a" stroke="#5f6414" stroke-width="0.6"/>
<path d="M112.5 365.2L114.2 368.3L110.8 368.3Z" fill="#efe67a" stroke="#5f6414" stroke-width="0.6"/>
<path d="M131.2 345.2L132.9 348.3L129.6 348.3Z" fill="#efe67a" stroke="#5f6414" stroke-width="0.6"/>
<path d="M145.6 328.9L147.3 332.0L143.9 332.0Z" fill="#efe67a" stroke="#5f6414" stroke-width="0.6"/>
<path d="M150.6 317.7L152.3 320.8L148.9 320.8Z" fill="#efe67a" stroke="#5f6414" stroke-width="0.6"/>
<path d="M155.6 315.6L157.3 318.7L153.9 318.7Z" fill="#efe67a" stroke="#5f6414" stroke-width="0.6"/>
<path d="M157.0 315.6L158.7 318.7L155.3 318.7Z" fill="#efe67a" stroke="#5f6414" stroke-width="0.6"/>
<path d="M166.9 310.8L168.6 313.9L165.2 313.9Z" fill="#efe67a" stroke="#5f6414" stroke-width="0.6"/>
<path d="M171.2 303.7L172.9 306.8L169.6 306.8Z" fill="#efe67a" stroke="#5f6414" stroke-width="0.6"/>
<path d="M176.5 298.1L178.2 301.1L174.8 301.1Z" fill="#efe67a" stroke="#5f6414" stroke-width="0.6"/>
<path d="M181.2 294.3L182.9 297.4L179.6 297.4Z" fill="#efe67a" stroke="#5f6414" stroke-width="0.6"/>
<path d="M183.0 293.1L184.7 296.1L181.3 296.1Z" fill="#efe67a" stroke="#5f6414" stroke-width="0.6"/>
<path d="M188.0 289.3L189.7 292.4L186.3 292.4Z" fill="#efe67a" stroke="#5f6414" stroke-width="0.6"/>
<path d="M190.6 288.1L192.3 291.1L188.9 291.1Z" fill="#efe67a" stroke="#5f6414" stroke-width="0.6"/>
<path d="M195.6 283.1L197.3 286.1L193.9 286.1Z" fill="#efe67a" stroke="#5f6414" stroke-width="0.6"/>
<path d="M200.5 277.6L202.2 280.6L198.8 280.6Z" fill="#efe67a" stroke="#5f6414" stroke-width="0.6"/>
<path d="M206.9 268.7L208.6 271.8L205.2 271.8Z" fill="#efe67a" stroke="#5f6414" stroke-width="0.6"/>
<path d="M209.4 267.3L211.1 270.4L207.7 270.4Z" fill="#efe67a" stroke="#5f6414" stroke-width="0.6"/>
<path d="M211.2 266.2L212.9 269.3L209.6 269.3Z" fill="#efe67a" stroke="#5f6414" stroke-width="0.6"/>
<path d="M219.4 254.3L221.1 257.4L217.7 257.4Z" fill="#efe67a" stroke="#5f6414" stroke-width="0.6"/>
<path d="M221.9 254.3L223.6 257.4L220.2 257.4Z" fill="#efe67a" stroke="#5f6414" stroke-width="0.6"/>
<path d="M223.8 247.3L225.4 250.4L222.1 250.4Z" fill="#efe67a" stroke="#5f6414" stroke-width="0.6"/>
<path d="M226.2 246.8L227.9 249.9L224.6 249.9Z" fill="#efe67a" stroke="#5f6414" stroke-width="0.6"/>
<path d="M228.0 236.8L229.7 239.9L226.3 239.9Z" fill="#efe67a" stroke="#5f6414" stroke-width="0.6"/>
<rect x="4.0" y="391.6" width="1.9" height="1.9" fill="#111"/>
<rect x="6.3" y="391.0" width="1.9" height="1.9" fill="#111"/>
<rect x="8.7" y="390.5" width="1.9" height="1.9" fill="#111"/>
<rect x="10.9" y="389.9" width="1.9" height="1.9" fill="#111"/>
<rect x="13.2" y="389.8" width="1.9" height="1.9" fill="#111"/>
<rect x="15.6" y="389.8" width="1.9" height="1.9" fill="#111"/>
<rect x="17.8" y="389.8" width="1.9" height="1.9" fill="#111"/>
<rect x="20.1" y="389.8" width="1.9" height="1.9" fill="#111"/>
<rect x="22.4" y="389.8" width="1.9" height="1.9" fill="#111"/>
<rect x="24.8" y="389.0" width="1.9" height="1.9" fill="#111"/>
<rect x="27.1" y="386.8" width="1.9" height="1.9" fill="#111"/>
<rect x="29.3" y="386.8" width="1.9" height="1.9" fill="#111"/>
<rect x="31.6" y="386.8" width="1.9" height="1.9" fill="#111"/>
<rect x="33.9" y="386.8" width="1.9" height="1.9" fill="#111"/>
<rect x="36.2" y="386.8" width="1.9" height="1.9" fill="#111"/>
<rect x="38.5" y="386.8" width="1.9" height="1.9" fill="#111"/>
<rect x="40.8" y="385.6" width="1.9" height="1.9" fill="#111"/>
<rect x="43.1" y="384.1" width="1.9" height="1.9" fill="#111"/>
<rect x="45.4" y="383.1" width="1.9" height="1.9" fill="#111"/>
<rect x="47.7" y="382.4" width="1.9" height="1.9" fill="#111"/>
<rect x="50.0" y="381.8" width="1.9" height="1.9" fill="#111"/>
<rect x="52.3" y="381.3" width="1.9" height="1.9" fill="#111"/>
<rect x="54.6" y="380.8" width="1.9" height="1.9" fill="#111"/>
<rect x="56.9" y="380.3" width="1.9" height="1.9" fill="#111"/>
<rect x="59.2" y="379.7" width="1.9" height="1.9" fill="#111"/>
<rect x="61.5" y="378.9" width="1.9" height="1.9" fill="#111"/>
<rect x="63.8" y="378.1" width="1.9" height="1.9" fill="#111"/>
<rect x="66.1" y="375.7" width="1.9" height="1.9" fill="#111"/>
<rect x="68.4" y="374.5" width="1.9" height="1.9" fill="#111"/>
<rect x="70.7" y="373.6" width="1.9" height="1.9" fill="#111"/>
<rect x="73.0" y="371.5" width="1.9" height="1.9" fill="#111"/>
<rect x="75.3" y="371.2" width="1.9" height="1.9" fill="#111"/>
<rect x="77.6" y="371.2" width="1.9" height="1.9" fill="#111"/>
<rect x="84.5" y="368.5" width="1.9" height="1.9" fill="#111"/>
<rect x="86.8" y="367.8" width="1.9" height="1.9" fill="#111"/>
<rect x="89.1" y="367.3" width="1.9" height="1.9" fill="#111"/>
<rect x="91.4" y="366.9" width="1.9" height="1.9" fill="#111"/>
<rect x="93.7" y="366.5" width="1.9" height="1.9" fill="#111"/>
<rect x="96.0" y="366.1" width="1.9" height="1.9" fill="#111"/>
<rect x="102.9" y="363.1" width="1.9" height="1.9" fill="#111"/>
<rect x="105.2" y="363.1" width="1.9" height="1.9" fill="#111"/>
<rect x="107.5" y="362.5" width="1.9" height="1.9" fill="#111"/>
<rect x="114.4" y="359.4" width="1.9" height="1.9" fill="#111"/>
<rect x="116.7" y="356.8" width="1.9" height="1.9" fill="#111"/>
<rect x="119.0" y="353.8" width="1.9" height="1.9" fill="#111"/>
<rect x="121.3" y="352.1" width="1.9" height="1.9" fill="#111"/>
<rect x="123.6" y="347.1" width="1.9" height="1.9" fill="#111"/>
<rect x="135.2" y="337.9" width="1.9" height="1.9" fill="#111"/>
<rect x="137.4" y="335.3" width="1.9" height="1.9" fill="#111"/>
<rect x="139.8" y="335.0" width="1.9" height="1.9" fill="#111"/>
<rect x="172.8" y="299.4" width="1.9" height="1.9" fill="#111"/>
<rect x="79.8" y="370.4" width="2.3" height="2.3" fill="#b8123f" stroke="#7a1f5a" stroke-width="0.4"/>
<rect x="81.3" y="369.2" width="2.3" height="2.3" fill="#b8123f" stroke="#7a1f5a" stroke-width="0.4"/>
<rect x="108.8" y="361.4" width="2.3" height="2.3" fill="#b8123f" stroke="#7a1f5a" stroke-width="0.4"/>
<rect x="111.1" y="361.1" width="2.3" height="2.3" fill="#b8123f" stroke="#7a1f5a" stroke-width="0.4"/>
<rect x="125.1" y="345.1" width="2.3" height="2.3" fill="#b8123f" stroke="#7a1f5a" stroke-width="0.4"/>
<rect x="127.6" y="342.0" width="2.3" height="2.3" fill="#b8123f" stroke="#7a1f5a" stroke-width="0.4"/>
<rect x="129.8" y="341.4" width="2.3" height="2.3" fill="#b8123f" stroke="#7a1f5a" stroke-width="0.4"/>
<rect x="132.6" y="340.8" width="2.3" height="2.3" fill="#b8123f" stroke="#7a1f5a" stroke-width="0.4"/>
<rect x="141.8" y="325.9" width="2.3" height="2.3" fill="#b8123f" stroke="#7a1f5a" stroke-width="0.4"/>
<rect x="143.8" y="325.9" width="2.3" height="2.3" fill="#b8123f" stroke="#7a1f5a" stroke-width="0.4"/>
<rect x="146.6" y="321.9" width="2.3" height="2.3" fill="#b8123f" stroke="#7a1f5a" stroke-width="0.4"/>
<rect x="148.8" y="313.2" width="2.3" height="2.3" fill="#b8123f" stroke="#7a1f5a" stroke-width="0.4"/>
<rect x="151.8" y="312.4" width="2.3" height="2.3" fill="#b8123f" stroke="#7a1f5a" stroke-width="0.4"/>
<rect x="155.1" y="311.9" width="2.3" height="2.3" fill="#b8123f" stroke="#7a1f5a" stroke-width="0.4"/>
<rect x="157.6" y="311.4" width="2.3" height="2.3" fill="#b8123f" stroke="#7a1f5a" stroke-width="0.4"/>
<rect x="151.3" y="312.4" width="2.3" height="2.3" fill="#b8123f" stroke="#7a1f5a" stroke-width="0.4"/>
<rect x="153.2" y="312.1" width="2.3" height="2.3" fill="#b8123f" stroke="#7a1f5a" stroke-width="0.4"/>
<rect x="158.2" y="311.1" width="2.3" height="2.3" fill="#b8123f" stroke="#7a1f5a" stroke-width="0.4"/>
<rect x="163.2" y="307.4" width="2.3" height="2.3" fill="#b8123f" stroke="#7a1f5a" stroke-width="0.4"/>
<rect x="165.1" y="306.8" width="2.3" height="2.3" fill="#b8123f" stroke="#7a1f5a" stroke-width="0.4"/>
<rect x="175.1" y="294.9" width="2.3" height="2.3" fill="#b8123f" stroke="#7a1f5a" stroke-width="0.4"/>
<rect x="177.6" y="291.8" width="2.3" height="2.3" fill="#b8123f" stroke="#7a1f5a" stroke-width="0.4"/>
<rect x="182.6" y="288.6" width="2.3" height="2.3" fill="#b8123f" stroke="#7a1f5a" stroke-width="0.4"/>
<rect x="184.8" y="286.8" width="2.3" height="2.3" fill="#b8123f" stroke="#7a1f5a" stroke-width="0.4"/>
<rect x="186.8" y="285.5" width="2.3" height="2.3" fill="#b8123f" stroke="#7a1f5a" stroke-width="0.4"/>
<rect x="188.8" y="284.2" width="2.3" height="2.3" fill="#b8123f" stroke="#7a1f5a" stroke-width="0.4"/>
<rect x="191.6" y="280.9" width="2.3" height="2.3" fill="#b8123f" stroke="#7a1f5a" stroke-width="0.4"/>
<rect x="201.6" y="270.9" width="2.3" height="2.3" fill="#b8123f" stroke="#7a1f5a" stroke-width="0.4"/>
<rect x="213.2" y="256.1" width="2.3" height="2.3" fill="#b8123f" stroke="#7a1f5a" stroke-width="0.4"/>
<rect x="215.3" y="255.2" width="2.3" height="2.3" fill="#b8123f" stroke="#7a1f5a" stroke-width="0.4"/>
<circle cx="100.6" cy="364.8" r="1.4" fill="#ffc23e" stroke="#d98218" stroke-width="0.5"/>
<circle cx="147.5" cy="327.0" r="1.4" fill="#ffc23e" stroke="#d98218" stroke-width="0.5"/>
<circle cx="171.9" cy="299.8" r="1.4" fill="#ffc23e" stroke="#d98218" stroke-width="0.5"/>
<circle cx="181.2" cy="292.2" r="1.4" fill="#ffc23e" stroke="#d98218" stroke-width="0.5"/>
<circle cx="183.0" cy="290.4" r="1.4" fill="#ffc23e" stroke="#d98218" stroke-width="0.5"/>
<circle cx="195.0" cy="281.0" r="1.4" fill="#ffc23e" stroke="#d98218" stroke-width="0.5"/>
<circle cx="196.2" cy="279.0" r="1.4" fill="#ffc23e" stroke="#d98218" stroke-width="0.5"/>
<circle cx="198.8" cy="276.6" r="1.4" fill="#ffc23e" stroke="#d98218" stroke-width="0.5"/>
<circle cx="200.0" cy="274.8" r="1.4" fill="#ffc23e" stroke="#d98218" stroke-width="0.5"/>
<circle cx="205.0" cy="267.2" r="1.4" fill="#ffc23e" stroke="#d98218" stroke-width="0.5"/>
<circle cx="207.5" cy="266.2" r="1.4" fill="#ffc23e" stroke="#d98218" stroke-width="0.5"/>
<circle cx="209.8" cy="265.0" r="1.4" fill="#ffc23e" stroke="#d98218" stroke-width="0.5"/>
<circle cx="211.9" cy="263.5" r="1.4" fill="#ffc23e" stroke="#d98218" stroke-width="0.5"/>
<circle cx="221.2" cy="252.2" r="1.4" fill="#ffc23e" stroke="#d98218" stroke-width="0.5"/>
<circle cx="223.8" cy="244.5" r="1.4" fill="#ffc23e" stroke="#d98218" stroke-width="0.5"/>
<circle cx="226.2" cy="244.0" r="1.4" fill="#ffc23e" stroke="#d98218" stroke-width="0.5"/>
<circle cx="228.5" cy="243.2" r="1.4" fill="#ffc23e" stroke="#d98218" stroke-width="0.5"/>
<path d="M105.2 358.6L106.6 360.0L105.2 361.4L103.9 360.0Z" fill="#2459b8" stroke="#1a3a8a" stroke-width="0.4"/>
<path d="M150.2 308.9L151.6 310.3L150.2 311.7L148.9 310.3Z" fill="#2459b8" stroke="#1a3a8a" stroke-width="0.4"/>
<path d="M157.2 307.6L158.5 309.0L157.2 310.4L155.8 309.0Z" fill="#2459b8" stroke="#1a3a8a" stroke-width="0.4"/>
<path d="M164.4 303.1L165.8 304.5L164.4 305.9L163.1 304.5Z" fill="#2459b8" stroke="#1a3a8a" stroke-width="0.4"/>
<path d="M166.2 302.1L167.6 303.5L166.2 304.9L164.9 303.5Z" fill="#2459b8" stroke="#1a3a8a" stroke-width="0.4"/>
<path d="M169.0 297.6L170.3 299.0L169.0 300.4L167.7 299.0Z" fill="#2459b8" stroke="#1a3a8a" stroke-width="0.4"/>
<path d="M176.9 290.2L178.2 291.6L176.9 293.0L175.6 291.6Z" fill="#2459b8" stroke="#1a3a8a" stroke-width="0.4"/>
<path d="M178.8 287.6L180.1 289.0L178.8 290.4L177.4 289.0Z" fill="#2459b8" stroke="#1a3a8a" stroke-width="0.4"/>
<path d="M183.5 284.6L184.8 286.0L183.5 287.4L182.2 286.0Z" fill="#2459b8" stroke="#1a3a8a" stroke-width="0.4"/>
<path d="M186.0 282.1L187.3 283.5L186.0 284.9L184.7 283.5Z" fill="#2459b8" stroke="#1a3a8a" stroke-width="0.4"/>
<path d="M188.0 281.2L189.3 282.6L188.0 284.0L186.7 282.6Z" fill="#2459b8" stroke="#1a3a8a" stroke-width="0.4"/>
<path d="M192.8 276.8L194.1 278.2L192.8 279.6L191.4 278.2Z" fill="#2459b8" stroke="#1a3a8a" stroke-width="0.4"/>
<path d="M197.5 271.5L198.8 272.9L197.5 274.2L196.2 272.9Z" fill="#2459b8" stroke="#1a3a8a" stroke-width="0.4"/>
<path d="M202.2 266.5L203.6 267.9L202.2 269.2L200.9 267.9Z" fill="#2459b8" stroke="#1a3a8a" stroke-width="0.4"/>
<path d="M205.0 261.6L206.3 263.0L205.0 264.4L203.7 263.0Z" fill="#2459b8" stroke="#1a3a8a" stroke-width="0.4"/>
<path d="M207.2 261.1L208.6 262.5L207.2 263.9L205.9 262.5Z" fill="#2459b8" stroke="#1a3a8a" stroke-width="0.4"/>
<path d="M209.8 260.0L211.1 261.4L209.8 262.8L208.4 261.4Z" fill="#2459b8" stroke="#1a3a8a" stroke-width="0.4"/>
<path d="M216.5 251.2L217.8 252.6L216.5 253.9L215.2 252.6Z" fill="#2459b8" stroke="#1a3a8a" stroke-width="0.4"/>
<path d="M219.0 250.2L220.3 251.6L219.0 252.9L217.7 251.6Z" fill="#2459b8" stroke="#1a3a8a" stroke-width="0.4"/>
<path d="M221.0 246.7L222.3 248.0L221.0 249.3L219.7 248.0Z" fill="#2459b8" stroke="#1a3a8a" stroke-width="0.4"/>
<path d="M223.8 239.4L225.1 240.8L223.8 242.1L222.4 240.8Z" fill="#2459b8" stroke="#1a3a8a" stroke-width="0.4"/>
<path d="M225.6 238.7L226.9 240.0L225.6 241.3L224.2 240.0Z" fill="#2459b8" stroke="#1a3a8a" stroke-width="0.4"/>
<path d="M228.5 233.7L229.8 235.0L228.5 236.3L227.2 235.0Z" fill="#2459b8" stroke="#1a3a8a" stroke-width="0.4"/>
<path d="M148.8 317.1L150.1 318.5L148.8 319.9L147.4 318.5Z" fill="#2459b8" stroke="#1a3a8a" stroke-width="0.4"/>
<g transform="translate(263.1,208)">
<text x="1.4" y="13" font-family="Liberation Sans, sans-serif" font-weight="bold" font-size="11.8" fill="#0a0a0a">D</text>
<rect x="0.5" y="17.7" width="255.4" height="189.70000000000002" fill="#fff" stroke="#cccccc" stroke-width="1"/>
<line x1="1.0" y1="17.7" x2="255.4" y2="17.7" stroke="#dedede" stroke-width="1"/>
<line x1="4.5" y1="21.5" x2="231.2" y2="21.5" stroke="#d4d4d4" stroke-width="0.8"/>
<text transform="translate(233.0,22.62) scale(0.1)" font-family="Liberation Sans, sans-serif" font-size="31" fill="#333" stroke="#333" stroke-width="0.25">0.00</text>
<line x1="4.5" y1="41.7" x2="231.2" y2="41.7" stroke="#d4d4d4" stroke-width="0.8"/>
<text transform="translate(233.0,42.82) scale(0.1)" font-family="Liberation Sans, sans-serif" font-size="31" fill="#333" stroke="#333" stroke-width="0.25">1.00</text>
<line x1="4.5" y1="61.9" x2="231.2" y2="61.9" stroke="#d4d4d4" stroke-width="0.8"/>
<text transform="translate(233.0,63.02) scale(0.1)" font-family="Liberation Sans, sans-serif" font-size="31" fill="#333" stroke="#333" stroke-width="0.25">2.00</text>
<line x1="4.5" y1="82.1" x2="231.2" y2="82.1" stroke="#d4d4d4" stroke-width="0.8"/>
<text transform="translate(233.0,83.22) scale(0.1)" font-family="Liberation Sans, sans-serif" font-size="31" fill="#333" stroke="#333" stroke-width="0.25">3.00</text>
<line x1="4.5" y1="102.3" x2="231.2" y2="102.3" stroke="#d4d4d4" stroke-width="0.8"/>
<text transform="translate(233.0,103.42) scale(0.1)" font-family="Liberation Sans, sans-serif" font-size="31" fill="#333" stroke="#333" stroke-width="0.25">4.00</text>
<line x1="4.5" y1="122.5" x2="231.2" y2="122.5" stroke="#d4d4d4" stroke-width="0.8"/>
<text transform="translate(233.0,123.62) scale(0.1)" font-family="Liberation Sans, sans-serif" font-size="31" fill="#333" stroke="#333" stroke-width="0.25">5.00</text>
<line x1="4.5" y1="142.7" x2="231.2" y2="142.7" stroke="#d4d4d4" stroke-width="0.8"/>
<text transform="translate(233.0,143.82) scale(0.1)" font-family="Liberation Sans, sans-serif" font-size="31" fill="#333" stroke="#333" stroke-width="0.25">6.00</text>
<line x1="4.5" y1="162.9" x2="231.2" y2="162.9" stroke="#d4d4d4" stroke-width="0.8"/>
<text transform="translate(233.0,164.02) scale(0.1)" font-family="Liberation Sans, sans-serif" font-size="31" fill="#333" stroke="#333" stroke-width="0.25">7.00</text>
<line x1="4.5" y1="183.1" x2="231.2" y2="183.1" stroke="#d4d4d4" stroke-width="0.8"/>
<text transform="translate(233.0,184.22) scale(0.1)" font-family="Liberation Sans, sans-serif" font-size="31" fill="#333" stroke="#333" stroke-width="0.25">8.00</text>
<line x1="4.5" y1="203.29999999999998" x2="231.2" y2="203.29999999999998" stroke="#d4d4d4" stroke-width="0.8"/>
<text transform="translate(233.0,204.42) scale(0.1)" font-family="Liberation Sans, sans-serif" font-size="31" fill="#333" stroke="#333" stroke-width="0.25">9.00</text>
<line x1="229.7" y1="21.5" x2="229.7" y2="203.29999999999998" stroke="#bdbdbd" stroke-width="0.8"/>
<text transform="translate(249.2,116) rotate(-90) scale(0.1)" text-anchor="middle" font-family="Liberation Sans, sans-serif" font-style="italic" font-size="50" fill="#000" stroke="#000" stroke-width="1">CRLF2 ΔCt</text>
</g>
<path d="M288.6 386.4L290.3 389.5L286.9 389.5Z" fill="#efe67a" stroke="#5f6414" stroke-width="0.6"/>
<path d="M290.8 386.4L292.4 389.5L289.1 389.5Z" fill="#efe67a" stroke="#5f6414" stroke-width="0.6"/>
<path d="M305.9 381.8L307.6 384.9L304.2 384.9Z" fill="#efe67a" stroke="#5f6414" stroke-width="0.6"/>
<path d="M313.4 379.8L315.1 382.9L311.7 382.9Z" fill="#efe67a" stroke="#5f6414" stroke-width="0.6"/>
<path d="M335.6 374.6L337.3 377.6L333.9 377.6Z" fill="#efe67a" stroke="#5f6414" stroke-width="0.6"/>
<path d="M343.1 370.6L344.8 373.6L341.4 373.6Z" fill="#efe67a" stroke="#5f6414" stroke-width="0.6"/>
<path d="M345.6 369.8L347.3 372.9L343.9 372.9Z" fill="#efe67a" stroke="#5f6414" stroke-width="0.6"/>
<path d="M357.9 365.8L359.6 368.9L356.2 368.9Z" fill="#efe67a" stroke="#5f6414" stroke-width="0.6"/>
<path d="M365.6 358.1L367.3 361.1L363.9 361.1Z" fill="#efe67a" stroke="#5f6414" stroke-width="0.6"/>
<path d="M367.5 358.1L369.2 361.1L365.8 361.1Z" fill="#efe67a" stroke="#5f6414" stroke-width="0.6"/>
<path d="M380.4 355.8L382.1 358.9L378.7 358.9Z" fill="#efe67a" stroke="#5f6414" stroke-width="0.6"/>
<path d="M393.0 351.3L394.7 354.4L391.3 354.4Z" fill="#efe67a" stroke="#5f6414" stroke-width="0.6"/>
<path d="M407.5 334.6L409.2 337.6L405.8 337.6Z" fill="#efe67a" stroke="#5f6414" stroke-width="0.6"/>
<path d="M412.8 332.4L414.4 335.5L411.1 335.5Z" fill="#efe67a" stroke="#5f6414" stroke-width="0.6"/>
<path d="M417.5 330.8L419.2 333.9L415.8 333.9Z" fill="#efe67a" stroke="#5f6414" stroke-width="0.6"/>
<path d="M427.5 324.3L429.2 327.4L425.8 327.4Z" fill="#efe67a" stroke="#5f6414" stroke-width="0.6"/>
<path d="M432.5 316.2L434.2 319.3L430.8 319.3Z" fill="#efe67a" stroke="#5f6414" stroke-width="0.6"/>
<path d="M442.5 311.6L444.2 314.7L440.8 314.7Z" fill="#efe67a" stroke="#5f6414" stroke-width="0.6"/>
<path d="M457.5 300.6L459.2 303.6L455.8 303.6Z" fill="#efe67a" stroke="#5f6414" stroke-width="0.6"/>
<path d="M462.5 299.1L464.2 302.1L460.8 302.1Z" fill="#efe67a" stroke="#5f6414" stroke-width="0.6"/>
<path d="M469.8 290.9L471.4 294.0L468.1 294.0Z" fill="#efe67a" stroke="#5f6414" stroke-width="0.6"/>
<path d="M477.5 286.6L479.2 289.6L475.8 289.6Z" fill="#efe67a" stroke="#5f6414" stroke-width="0.6"/>
<path d="M485.0 280.6L486.7 283.6L483.3 283.6Z" fill="#efe67a" stroke="#5f6414" stroke-width="0.6"/>
<circle cx="350.6" cy="370.0" r="1.5" fill="#8cc63f" stroke="#5a7d1e" stroke-width="0.5"/>
<circle cx="373.1" cy="359.4" r="1.5" fill="#8cc63f" stroke="#5a7d1e" stroke-width="0.5"/>
<circle cx="474.8" cy="291.4" r="1.5" fill="#8cc63f" stroke="#5a7d1e" stroke-width="0.5"/>
<circle cx="482.5" cy="283.5" r="1.5" fill="#8cc63f" stroke="#5a7d1e" stroke-width="0.5"/>
<rect x="267.7" y="390.9" width="1.9" height="1.9" fill="#111"/>
<rect x="270.2" y="389.7" width="1.9" height="1.9" fill="#111"/>
<rect x="272.7" y="389.1" width="1.9" height="1.9" fill="#111"/>
<rect x="275.2" y="388.1" width="1.9" height="1.9" fill="#111"/>
<rect x="280.2" y="385.1" width="1.9" height="1.9" fill="#111"/>
<rect x="282.7" y="384.9" width="1.9" height="1.9" fill="#111"/>
<rect x="285.2" y="384.7" width="1.9" height="1.9" fill="#111"/>
<rect x="287.7" y="383.1" width="1.9" height="1.9" fill="#111"/>
<rect x="289.8" y="383.1" width="1.9" height="1.9" fill="#111"/>
<rect x="292.3" y="379.1" width="1.9" height="1.9" fill="#111"/>
<rect x="294.8" y="378.9" width="1.9" height="1.9" fill="#111"/>
<rect x="297.3" y="378.8" width="1.9" height="1.9" fill="#111"/>
<rect x="299.8" y="378.7" width="1.9" height="1.9" fill="#111"/>
<rect x="304.8" y="378.2" width="1.9" height="1.9" fill="#111"/>
<rect x="307.3" y="378.2" width="1.9" height="1.9" fill="#111"/>
<rect x="309.8" y="378.1" width="1.9" height="1.9" fill="#111"/>
<rect x="312.1" y="375.9" width="1.9" height="1.9" fill="#111"/>
<rect x="314.6" y="375.3" width="1.9" height="1.9" fill="#111"/>
<rect x="317.1" y="375.1" width="1.9" height="1.9" fill="#111"/>
<rect x="319.7" y="373.7" width="1.9" height="1.9" fill="#111"/>
<rect x="322.2" y="372.2" width="1.9" height="1.9" fill="#111"/>
<rect x="324.7" y="371.3" width="1.9" height="1.9" fill="#111"/>
<rect x="327.2" y="370.9" width="1.9" height="1.9" fill="#111"/>
<rect x="329.7" y="370.8" width="1.9" height="1.9" fill="#111"/>
<rect x="332.2" y="370.6" width="1.9" height="1.9" fill="#111"/>
<rect x="334.7" y="370.1" width="1.9" height="1.9" fill="#111"/>
<rect x="337.2" y="369.1" width="1.9" height="1.9" fill="#111"/>
<rect x="354.7" y="363.4" width="1.9" height="1.9" fill="#111"/>
<rect x="356.8" y="362.6" width="1.9" height="1.9" fill="#111"/>
<rect x="359.3" y="359.1" width="1.9" height="1.9" fill="#111"/>
<rect x="389.1" y="347.9" width="1.9" height="1.9" fill="#111"/>
<rect x="394.1" y="345.7" width="1.9" height="1.9" fill="#111"/>
<rect x="396.6" y="344.4" width="1.9" height="1.9" fill="#111"/>
<rect x="424.1" y="323.2" width="1.9" height="1.9" fill="#111"/>
<rect x="302.1" y="378.2" width="2.3" height="2.3" fill="#b8123f" stroke="#7a1f5a" stroke-width="0.4"/>
<rect x="339.5" y="367.0" width="2.3" height="2.3" fill="#b8123f" stroke="#7a1f5a" stroke-width="0.4"/>
<rect x="342.0" y="366.4" width="2.3" height="2.3" fill="#b8123f" stroke="#7a1f5a" stroke-width="0.4"/>
<rect x="344.5" y="366.1" width="2.3" height="2.3" fill="#b8123f" stroke="#7a1f5a" stroke-width="0.4"/>
<rect x="349.5" y="364.9" width="2.3" height="2.3" fill="#b8123f" stroke="#7a1f5a" stroke-width="0.4"/>
<rect x="352.0" y="364.1" width="2.3" height="2.3" fill="#b8123f" stroke="#7a1f5a" stroke-width="0.4"/>
<rect x="361.6" y="355.4" width="2.3" height="2.3" fill="#b8123f" stroke="#7a1f5a" stroke-width="0.4"/>
<rect x="364.1" y="354.5" width="2.3" height="2.3" fill="#b8123f" stroke="#7a1f5a" stroke-width="0.4"/>
<rect x="366.6" y="354.0" width="2.3" height="2.3" fill="#b8123f" stroke="#7a1f5a" stroke-width="0.4"/>
<rect x="369.1" y="353.7" width="2.3" height="2.3" fill="#b8123f" stroke="#7a1f5a" stroke-width="0.4"/>
<rect x="371.6" y="353.5" width="2.3" height="2.3" fill="#b8123f" stroke="#7a1f5a" stroke-width="0.4"/>
<rect x="374.1" y="353.2" width="2.3" height="2.3" fill="#b8123f" stroke="#7a1f5a" stroke-width="0.4"/>
<rect x="376.6" y="352.6" width="2.3" height="2.3" fill="#b8123f" stroke="#7a1f5a" stroke-width="0.4"/>
<rect x="378.9" y="352.0" width="2.3" height="2.3" fill="#b8123f" stroke="#7a1f5a" stroke-width="0.4"/>
<rect x="381.4" y="350.8" width="2.3" height="2.3" fill="#b8123f" stroke="#7a1f5a" stroke-width="0.4"/>
<rect x="383.6" y="349.5" width="2.3" height="2.3" fill="#b8123f" stroke="#7a1f5a" stroke-width="0.4"/>
<rect x="386.4" y="348.7" width="2.3" height="2.3" fill="#b8123f" stroke="#7a1f5a" stroke-width="0.4"/>
<rect x="391.4" y="346.7" width="2.3" height="2.3" fill="#b8123f" stroke="#7a1f5a" stroke-width="0.4"/>
<rect x="398.9" y="342.4" width="2.3" height="2.3" fill="#b8123f" stroke="#7a1f5a" stroke-width="0.4"/>
<rect x="401.4" y="334.2" width="2.3" height="2.3" fill="#b8123f" stroke="#7a1f5a" stroke-width="0.4"/>
<rect x="403.9" y="332.4" width="2.3" height="2.3" fill="#b8123f" stroke="#7a1f5a" stroke-width="0.4"/>
<rect x="406.4" y="331.1" width="2.3" height="2.3" fill="#b8123f" stroke="#7a1f5a" stroke-width="0.4"/>
<rect x="408.9" y="330.1" width="2.3" height="2.3" fill="#b8123f" stroke="#7a1f5a" stroke-width="0.4"/>
<rect x="411.4" y="328.9" width="2.3" height="2.3" fill="#b8123f" stroke="#7a1f5a" stroke-width="0.4"/>
<rect x="416.4" y="326.8" width="2.3" height="2.3" fill="#b8123f" stroke="#7a1f5a" stroke-width="0.4"/>
<rect x="418.9" y="324.2" width="2.3" height="2.3" fill="#b8123f" stroke="#7a1f5a" stroke-width="0.4"/>
<rect x="421.4" y="323.9" width="2.3" height="2.3" fill="#b8123f" stroke="#7a1f5a" stroke-width="0.4"/>
<rect x="426.4" y="320.9" width="2.3" height="2.3" fill="#b8123f" stroke="#7a1f5a" stroke-width="0.4"/>
<rect x="428.9" y="320.5" width="2.3" height="2.3" fill="#b8123f" stroke="#7a1f5a" stroke-width="0.4"/>
<rect x="431.4" y="312.4" width="2.3" height="2.3" fill="#b8123f" stroke="#7a1f5a" stroke-width="0.4"/>
<rect x="433.9" y="309.9" width="2.3" height="2.3" fill="#b8123f" stroke="#7a1f5a" stroke-width="0.4"/>
<rect x="436.4" y="308.7" width="2.3" height="2.3" fill="#b8123f" stroke="#7a1f5a" stroke-width="0.4"/>
<rect x="438.9" y="307.9" width="2.3" height="2.3" fill="#b8123f" stroke="#7a1f5a" stroke-width="0.4"/>
<rect x="441.4" y="307.2" width="2.3" height="2.3" fill="#b8123f" stroke="#7a1f5a" stroke-width="0.4"/>
<rect x="443.9" y="306.2" width="2.3" height="2.3" fill="#b8123f" stroke="#7a1f5a" stroke-width="0.4"/>
<rect x="448.9" y="300.6" width="2.3" height="2.3" fill="#b8123f" stroke="#7a1f5a" stroke-width="0.4"/>
<rect x="451.4" y="298.1" width="2.3" height="2.3" fill="#b8123f" stroke="#7a1f5a" stroke-width="0.4"/>
<rect x="453.9" y="297.1" width="2.3" height="2.3" fill="#b8123f" stroke="#7a1f5a" stroke-width="0.4"/>
<rect x="456.4" y="296.8" width="2.3" height="2.3" fill="#b8123f" stroke="#7a1f5a" stroke-width="0.4"/>
<rect x="458.9" y="296.5" width="2.3" height="2.3" fill="#b8123f" stroke="#7a1f5a" stroke-width="0.4"/>
<rect x="461.4" y="294.6" width="2.3" height="2.3" fill="#b8123f" stroke="#7a1f5a" stroke-width="0.4"/>
<rect x="463.9" y="291.1" width="2.3" height="2.3" fill="#b8123f" stroke="#7a1f5a" stroke-width="0.4"/>
<rect x="466.4" y="287.8" width="2.3" height="2.3" fill="#b8123f" stroke="#7a1f5a" stroke-width="0.4"/>
<rect x="468.9" y="287.1" width="2.3" height="2.3" fill="#b8123f" stroke="#7a1f5a" stroke-width="0.4"/>
<rect x="471.4" y="287.1" width="2.3" height="2.3" fill="#b8123f" stroke="#7a1f5a" stroke-width="0.4"/>
<rect x="476.4" y="283.1" width="2.3" height="2.3" fill="#b8123f" stroke="#7a1f5a" stroke-width="0.4"/>
<rect x="478.9" y="280.9" width="2.3" height="2.3" fill="#b8123f" stroke="#7a1f5a" stroke-width="0.4"/>
<rect x="483.6" y="277.1" width="2.3" height="2.3" fill="#b8123f" stroke="#7a1f5a" stroke-width="0.4"/>
<rect x="488.5" y="272.4" width="2.3" height="2.3" fill="#b8123f" stroke="#7a1f5a" stroke-width="0.4"/>
<circle cx="278.6" cy="387.5" r="1.4" fill="#ffc23e" stroke="#d98218" stroke-width="0.5"/>
<circle cx="348.1" cy="366.5" r="1.4" fill="#ffc23e" stroke="#d98218" stroke-width="0.5"/>
<circle cx="415.0" cy="329.0" r="1.4" fill="#ffc23e" stroke="#d98218" stroke-width="0.5"/>
<circle cx="447.5" cy="303.2" r="1.4" fill="#ffc23e" stroke="#d98218" stroke-width="0.5"/>
<circle cx="475.0" cy="286.4" r="1.4" fill="#ffc23e" stroke="#d98218" stroke-width="0.5"/>
<circle cx="482.2" cy="280.1" r="1.4" fill="#ffc23e" stroke="#d98218" stroke-width="0.5"/>
<circle cx="487.2" cy="276.8" r="1.4" fill="#ffc23e" stroke="#d98218" stroke-width="0.5"/>
<circle cx="492.1" cy="246.2" r="1.7" fill="#d9c64a" stroke="#a8a040" stroke-width="0.5"/>
<path d="M335.9 365.9L337.2 367.2L335.9 368.6L334.5 367.2Z" fill="#2459b8" stroke="#1a3a8a" stroke-width="0.4"/>
<path d="M348.1 361.4L349.5 362.8L348.1 364.1L346.8 362.8Z" fill="#2459b8" stroke="#1a3a8a" stroke-width="0.4"/>
<path d="M388.0 345.2L389.4 346.6L388.0 348.0L386.6 346.6Z" fill="#2459b8" stroke="#1a3a8a" stroke-width="0.4"/>
<path d="M393.0 343.6L394.4 345.0L393.0 346.4L391.6 345.0Z" fill="#2459b8" stroke="#1a3a8a" stroke-width="0.4"/>
<path d="M402.8 329.6L404.1 331.0L402.8 332.4L401.4 331.0Z" fill="#2459b8" stroke="#1a3a8a" stroke-width="0.4"/>
<path d="M422.5 319.4L423.9 320.8L422.5 322.1L421.1 320.8Z" fill="#2459b8" stroke="#1a3a8a" stroke-width="0.4"/>
<path d="M435.0 306.8L436.4 308.1L435.0 309.5L433.6 308.1Z" fill="#2459b8" stroke="#1a3a8a" stroke-width="0.4"/>
<path d="M447.5 298.1L448.9 299.5L447.5 300.9L446.1 299.5Z" fill="#2459b8" stroke="#1a3a8a" stroke-width="0.4"/>
<path d="M460.0 292.1L461.4 293.5L460.0 294.9L458.6 293.5Z" fill="#2459b8" stroke="#1a3a8a" stroke-width="0.4"/>
<path d="M469.8 282.9L471.1 284.2L469.8 285.6L468.4 284.2Z" fill="#2459b8" stroke="#1a3a8a" stroke-width="0.4"/>
<path d="M484.8 272.5L486.1 273.9L484.8 275.2L483.4 273.9Z" fill="#2459b8" stroke="#1a3a8a" stroke-width="0.4"/>
<path d="M489.6 267.9L491.0 269.2L489.6 270.6L488.2 269.2Z" fill="#2459b8" stroke="#1a3a8a" stroke-width="0.4"/>
<path d="M492.1 240.9L493.5 242.2L492.1 243.6L490.8 242.2Z" fill="#2459b8" stroke="#1a3a8a" stroke-width="0.4"/>
</svg></body></html>
